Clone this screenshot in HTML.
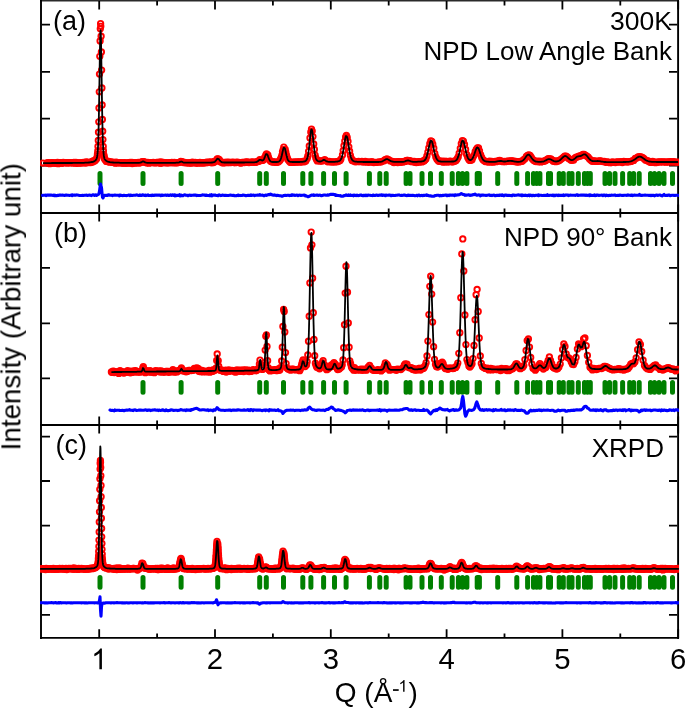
<!DOCTYPE html><html><head><meta charset="utf-8"><style>html,body{margin:0;padding:0;background:#fff}svg{display:block}</style></head><body><svg width="685" height="709" viewBox="0 0 685 709">
<defs><marker id="c" markerUnits="userSpaceOnUse" markerWidth="10" markerHeight="10" refX="5" refY="5" overflow="visible"><circle cx="5" cy="5" r="2.7" fill="none" stroke="#f00" stroke-width="1.9"/></marker><clipPath id="pc"><rect x="40" y="0" width="639" height="709"/></clipPath></defs>
<rect width="685" height="709" fill="#fff"/>
<path d="M40 .7H679" stroke="#2a2a2a" stroke-width="1.4"/>
<path d="M41 0V638.9M678.1 0V638.9M40 213H679M40 425H679M40 637.9H679" stroke="#000" stroke-width="1.9" fill="none"/>
<path d="M99.2 1V9.6M99.2 204.4V221.6M99.2 416.4V433.6M99.2 637.9V629.3M157.1 1V5.4M157.1 208.6V217.4M157.1 420.6V429.4M157.1 637.9V633.5M215 1V9.6M215 204.4V221.6M215 416.4V433.6M215 637.9V629.3M272.9 1V5.4M272.9 208.6V217.4M272.9 420.6V429.4M272.9 637.9V633.5M330.8 1V9.6M330.8 204.4V221.6M330.8 416.4V433.6M330.8 637.9V629.3M388.7 1V5.4M388.7 208.6V217.4M388.7 420.6V429.4M388.7 637.9V633.5M446.6 1V9.6M446.6 204.4V221.6M446.6 416.4V433.6M446.6 637.9V629.3M504.5 1V5.4M504.5 208.6V217.4M504.5 420.6V429.4M504.5 637.9V633.5M562.4 1V9.6M562.4 204.4V221.6M562.4 416.4V433.6M562.4 637.9V629.3M620.3 1V5.4M620.3 208.6V217.4M620.3 420.6V429.4M620.3 637.9V633.5M678.2 1V9.6M678.2 204.4V221.6M678.2 416.4V433.6M678.2 637.9V629.3M42 24.6H50M677.2 24.6H669M42 71.9H50M677.2 71.9H669M42 118.6H50M677.2 118.6H669M42 165.6H50M677.2 165.6H669M42 267.9H50M677.2 267.9H669M42 323.3H50M677.2 323.3H669M42 378.3H50M677.2 378.3H669M42 436.6H50M677.2 436.6H669M42 481H50M677.2 481H669M42 525.7H50M677.2 525.7H669M42 570.2H50M677.2 570.2H669M42 614.8H50M677.2 614.8H669M42 213H50M677.2 213H669M42 425H50M677.2 425H669" stroke="#000" stroke-width="1.8" fill="none"/>
<g clip-path="url(#pc)">
<polyline points="43,163.1 46.8,163 47.8,162.8 48.8,162.7 49.8,163.7 50.9,163 51.9,162.7 52.8,162.8 53.7,163.2 54.7,162.9 55.6,162.9 56.6,163.3 57.5,162.4 58.2,163.7 59.2,163 60.2,162.7 61.2,162.8 62.3,163.3 63.3,162.5 64.4,162.7 65.4,162.6 66.4,162.8 67.3,162.9 68.2,162.7 69.1,162.8 70.1,162.7 71,162.6 72,162.8 73,162.9 74,162.5 75,163.2 76,162.5 77,163.3 78.1,162.9 79.1,162.9 80.2,162.8 81.2,162.9 82.3,162.9 83.4,162.3 84.5,162.6 85.6,163 86.1,162 87,162.5 87.9,162.3 88.8,162.5 89.8,162.4 90.7,162.6 91.7,161.7 92.6,162.1 93.1,160.9 94.1,161 95,160.8 96,159.5 96.8,158.4 97.3,156 97.5,153.8 97.8,150.9 98,146.5 98.3,140.4 98.5,132.2 98.8,121.8 99,107.9 99.3,91.8 99.5,74.1 99.8,56.3 100.1,40.9 100.3,28.8 100.6,23.6 100.8,26.3 101.1,36.2 101.4,51.9 101.6,70.1 101.9,88 102.1,104.9 102.4,119.4 102.7,131.2 102.9,139.6 103.2,146.5 103.4,150.7 103.7,154.3 104,155.8 104.2,157.5 104.5,158.7 105.3,159.9 106.4,161.4 107.5,161.5 108.6,161.5 109.7,162.2 110.8,161.8 111.9,162.1 113.1,162.4 114.2,162.5 115.4,163.2 116.2,162.1 117.4,162.9 118.6,162.6 119.8,162.8 120.7,162.7 121.6,162.8 122.5,163.1 123.4,163 124.4,162.7 125.3,163.1 126.2,163.1 127.2,162.9 128.1,163.1 129.1,162.6 130.1,162.3 131,163.2 132,162.5 132.3,163.6 133.3,162.7 134.3,162.7 135.3,163.2 136.3,162.7 137.3,162.7 138.3,162.5 139.4,163.1 140.4,162.5 141.4,162.1 142.5,161.7 143.5,161.6 144.6,162 145.7,162.6 146.7,162.8 147.8,162.5 148.9,163.2 150,162.6 151.1,162.6 152.2,162.6 153.3,162.5 154.5,162.7 155.6,162.9 156.7,162.5 157.9,162.4 159,162.5 160.2,163.2 160.6,162 161,163 162.2,162.5 163.3,162.5 164.5,162.7 165.7,162.7 166.9,162.8 168.2,162.8 169.4,162.7 170.6,162.6 171.9,162.5 173.1,162.8 174.4,162.5 175.6,162.8 176.9,162.8 178.2,162.6 179.5,162.3 180.8,161.5 182.1,161.6 183.4,162.5 184.7,162.5 186,162.8 187.4,162.8 188.7,162.9 189.6,162.8 190.6,162.9 191.5,163 192.4,162.2 193.3,162.6 194.2,162.8 195.2,162.3 196.1,163.1 197,162.8 198,163.2 198.9,162.6 199.9,162.5 200.8,162.8 201.8,163 202.8,162.6 203.7,162.8 204.7,162.8 205.7,162.7 206.6,162.1 207.6,162.6 208.6,162.1 209.6,162.4 210.6,161.9 211.6,162.8 212.6,162.3 213.6,162.5 214.1,161.3 215.2,161.6 216.2,160.8 217.2,159 218.2,158.9 219.3,159.7 220.3,161.7 221.4,161.9 222.4,162.7 223.5,162.9 224.5,162.4 225.6,162.7 226.6,162.1 227.7,162.6 228.8,162.1 229.9,162.7 231,162.4 232.1,162.4 233.2,162.2 234.3,162.6 235.4,162.7 236.5,162.2 237.6,162.4 238.7,162.3 239.8,162.8 241,163.1 242.1,162.5 243.2,162.4 244.4,162.5 245.5,162.2 246.7,162 247.9,162.2 249,162.5 250.2,162.3 251.4,162.1 252.6,162 253.7,162.3 254.9,162.2 256.1,162.3 257.3,161.3 258.5,161.4 259.8,159.7 261,160.5 262.2,160.4 263.4,160.1 264.7,157.4 265.9,155 266.5,154 267.8,154.9 268.4,157.4 269,158.8 269.7,160.3 270.9,161.4 272.2,162.1 273.5,161.9 274.7,161.9 276,162.4 277.3,162.3 278.6,161.7 279.9,160.4 280.6,159.2 281.2,157.7 281.9,155.4 282.5,151.8 283.2,149.6 283.8,147.1 285.2,149.3 285.8,152.1 286.5,155.2 287.2,157.6 287.8,159.4 289.2,161.3 290.5,162.4 291.9,162.2 293.2,162.4 294.6,162 296,162.1 297.4,162 298.7,161.9 300.1,161.9 301.5,162 302.9,161.4 304.3,161.8 305.8,160.9 307.2,158.4 307.9,155.9 308.6,151.3 309.3,145.9 310,138 310.8,132.2 311.5,129.1 312.2,131.1 312.9,136.6 313.7,143.9 314.4,149.5 315.1,155.1 315.8,157.9 316.6,159.6 317.3,160.9 318.8,160.7 320.3,161 321.7,161.1 323.2,160.6 324.7,159.6 326.2,160.8 327.8,161.8 329.3,161.3 330.8,161.9 332.3,161.9 333.9,161.8 335.4,161.9 337,161.7 338.5,161.3 340.1,160.6 340.9,159.1 342.5,155 343.2,150.6 344,145.7 344.8,141.1 345.6,137.1 346.4,135.5 347.2,137.4 348,141.3 348.8,146.8 349.6,151.2 350.4,155.3 351.3,158.3 352.1,160.5 353.7,161 355.3,161.8 357,161.6 358.6,161.5 360.3,161.7 361.9,161.5 363.6,162 365.3,161.5 367,162.2 368.6,162 370.3,162.2 372,161.7 373.8,162.5 375.5,162.4 377.2,162.3 378.9,161.9 380.7,162 382.4,161.3 384.2,160.7 385.1,159.6 386.9,159 388.6,159.7 390.4,160.9 392.2,161.3 393.1,162 394,162.5 394.9,162.1 395.8,162 396.7,162 397.7,162.5 398.6,161.7 399.5,161.9 400.4,162.1 401.3,162.1 402.2,161.7 403.2,161.9 404.1,161.5 405,161.4 405.9,161 406.9,160.3 407.8,160.4 408.7,160.8 409.7,160.6 410.6,161.2 411.6,161.7 412.5,161.4 413.4,161.8 414.4,161.5 415.3,162.2 416.3,162.5 417.2,162.4 418.2,161.7 419.2,161.9 420.1,161.7 421.1,161.6 422,161.9 423,160.8 424,161.1 424.9,160 425.9,158.9 426.9,156 427.9,152.1 428.8,147.9 429.8,143.7 430.8,140.8 431.8,141.3 432.8,144.2 433.8,148.2 434.8,153.5 435.8,156.9 436.8,159 437.8,160.3 438.8,161.3 439.8,161.1 440.8,161.2 441.8,161.5 442.8,162 443.8,161.2 444.8,162 445.8,161.5 446.8,161.4 447.9,162.1 448.9,161.6 449.9,161.2 450.9,161.5 452,161.8 453,161.8 454,161.2 455.1,161.1 456.1,160.6 457.1,158.9 458.2,156.9 459.2,153.2 460.3,148.3 461.3,143.6 462.4,140.7 463.4,141.1 464.5,144.5 465.6,149.4 466.6,154.4 467.7,157.4 468.8,159.5 469.8,160.4 470.9,160.1 472,159.8 473,157.2 474.1,155.1 475.2,151.6 476.3,149.4 477.4,147.9 478.5,147.8 479.5,150.8 480.6,154.6 481.7,157.5 482.8,159.6 483.9,160.5 485,161.3 486.1,161.7 487.2,161.6 488.4,162 489.5,161.1 490.6,162 491.7,161.5 492.8,162.1 493.9,161.8 495.1,161.5 496.2,161.7 497.3,161.1 498.5,160.9 499.6,160.5 500.7,161 501.9,161.3 503,161.7 504.2,161.4 505.3,161.7 506.4,161.3 507.6,161.1 508.8,161.1 509.9,161.1 511.1,160.8 512.2,161 513.4,161.2 514.6,161.5 515.7,161.4 516.9,162.1 518.1,161.7 519.3,161.9 520.4,161.4 521.6,161.4 522.8,160.7 524,159.4 525.2,158.6 526.4,156.4 527.6,155.5 528.8,155 530,155.5 531.2,157.2 532.4,159.1 533.6,160.3 534.8,161.1 536,161.5 537.2,161.2 538.5,161.8 539.7,161.2 540.9,161.9 542.1,161.5 543.4,161.3 544.6,161 545.8,160.5 547.1,159.3 548.3,158.6 549.6,158.8 550.8,158.9 552.1,159.9 553.3,161.3 554.6,161 555.8,161.7 557.1,161 558.3,161.1 559.6,160.3 560.9,159.3 562.2,158.3 563.4,157.4 564.7,156.2 566,156.2 567.3,156.8 568.6,158.4 569.8,159.3 571.1,160.3 572.4,160 573.7,160 575,157.8 576.3,157.2 577.6,156.8 578.9,156.2 580.3,155.9 581.6,155.5 582.9,154.4 584.2,154.3 585.5,155.3 586.9,156.2 588.2,157.2 589.5,158.9 590.9,160.2 592.2,161.3 593.5,161 594.9,161 596.2,161.4 597.6,161.3 598.9,161 600.3,161 601.6,161.1 603,161.6 604.4,161.3 605.7,162.3 607.1,161.9 608.5,162.2 609.9,162.7 611.2,162.5 612.6,161.8 614,162.4 615.4,162.5 616.8,161.9 618.2,161.8 619.6,162.1 621,161.6 622.4,162.5 623.8,161.3 625.2,161.7 626.6,161.9 628,161.8 629.4,161.7 630.9,161.4 632.3,160.8 633.7,160.4 635.2,158.5 636.6,158.1 638,156.9 639.5,156.7 640.9,156.9 642.4,157.3 643.8,158.4 645.3,159.9 646.7,160.6 648.2,160.9 649.7,162.1 651.1,162.4 652.6,161.4 654.1,162 655.5,162.7 657,162.2 658.5,162 660,161.9 661.5,161.8 663,161.9 664.5,161.8 666,162.2 667.5,161.9 669,161.9 670.5,161.6 672,162 673.5,161.7 675,161.9 676.6,162.3 678.1,162.1" fill="none" stroke="none" marker-start="url(#c)" marker-mid="url(#c)" marker-end="url(#c)"/>
<polyline points="43,163.1 44,163.1 45,163.1 46,163.1 47,163.1 48,163.1 49,163.1 50,163.1 51,163.1 52,163 53,163 54,163 55,163 56,163 57,163 58,163 59,163 60,163 61,163 62,163 63,163 64,163 65,163 66,163 67,163 68,163 69,163 70,163 71,163 72,163 73,162.9 74,162.9 75,162.9 76,162.9 77,162.9 78,162.9 79,162.9 80,162.9 81,162.8 82,162.8 83,162.8 84,162.8 85,162.7 86,162.7 87,162.6 88,162.6 89,162.5 90,162.4 91,162.2 92,162 93,161.8 94,161.4 94.8,160.9 95.4,160.4 95.8,160 96.2,159.5 96.6,158.6 96.8,158 97,157.3 97.2,156.2 97.4,154.8 97.6,152.9 97.8,150.2 98,146.7 98.2,142.1 98.4,136.2 98.6,128.8 98.8,119.8 99,109.3 99.2,97.4 99.4,84.6 99.6,71.3 99.8,58.4 100,46.7 100.2,37.5 100.4,31.8 100.6,30.4 100.8,33.4 101,40.6 101.2,50.8 101.4,63.1 101.6,76.2 101.8,89.4 102,102 102.2,113.3 102.4,123.3 102.6,131.7 102.8,138.5 103,143.9 103.2,148.1 103.4,151.3 103.6,153.6 103.8,155.4 104,156.6 104.2,157.6 104.4,158.3 104.6,158.8 104.8,159.2 105.2,159.8 105.6,160.3 106.2,160.8 107,161.3 108,161.7 109,162 110,162.2 111,162.3 112,162.4 113,162.5 114,162.6 115,162.6 116,162.7 117,162.7 118,162.7 119,162.7 120,162.8 121,162.8 122,162.8 123,162.8 124,162.8 125,162.8 126,162.8 127,162.8 128,162.8 129,162.8 130,162.8 131,162.8 132,162.8 133,162.8 134,162.8 135,162.8 136,162.8 137,162.8 138,162.8 139,162.8 140,162.7 141,162.5 141.8,162 142.6,161.5 143.6,161.5 144.4,161.9 145.2,162.4 146.2,162.7 147.2,162.8 148.2,162.8 149.2,162.8 150.2,162.8 151.2,162.8 152.2,162.8 153.2,162.8 154.2,162.8 155.2,162.8 156.2,162.8 157.2,162.8 158.2,162.8 159.2,162.8 160.2,162.8 161.2,162.8 162.2,162.8 163.2,162.8 164.2,162.8 165.2,162.8 166.2,162.8 167.2,162.8 168.2,162.8 169.2,162.8 170.2,162.8 171.2,162.8 172.2,162.8 173.2,162.8 174.2,162.8 175.2,162.8 176.2,162.7 177.2,162.7 178.2,162.6 179.2,162.4 180.2,161.9 181.2,161.5 182.2,161.9 183,162.3 184,162.6 185,162.7 186,162.7 187,162.7 188,162.7 189,162.7 190,162.7 191,162.7 192,162.7 193,162.7 194,162.7 195,162.7 196,162.7 197,162.7 198,162.7 199,162.7 200,162.7 201,162.7 202,162.7 203,162.6 204,162.6 205,162.6 206,162.6 207,162.6 208,162.6 209,162.6 210,162.6 211,162.6 212,162.5 213,162.4 214,162.2 214.8,161.7 215.4,161.2 215.8,160.7 216.2,160.2 216.6,159.6 217,159.1 217.6,158.7 218.6,159 219,159.4 219.4,160 219.8,160.5 220.2,161 220.6,161.4 221.2,161.9 222.2,162.3 223.2,162.4 224.2,162.5 225.2,162.5 226.2,162.5 227.2,162.5 228.2,162.5 229.2,162.5 230.2,162.5 231.2,162.5 232.2,162.5 233.2,162.5 234.2,162.5 235.2,162.5 236.2,162.5 237.2,162.5 238.2,162.5 239.2,162.5 240.2,162.5 241.2,162.5 242.2,162.5 243.2,162.5 244.2,162.5 245.2,162.4 246.2,162.4 247.2,162.4 248.2,162.4 249.2,162.4 250.2,162.4 251.2,162.4 252.2,162.4 253.2,162.3 254.2,162.3 255.2,162.2 256.2,162.1 257.2,161.7 257.8,161.3 258.4,160.8 259,160.2 259.6,159.8 260.6,159.8 261.4,160.2 262.4,160.6 263.4,160 263.8,159.4 264.2,158.6 264.4,158.1 264.6,157.6 264.8,157.1 265,156.5 265.2,156 265.4,155.5 265.6,155 265.8,154.6 266.2,154 267.2,154.4 267.6,155.2 267.8,155.7 268,156.2 268.2,156.8 268.4,157.3 268.6,157.9 268.8,158.4 269,158.9 269.2,159.3 269.4,159.7 269.8,160.4 270.2,161 270.8,161.5 271.8,161.9 272.8,162 273.8,162 274.8,162 275.8,162 276.8,162 277.8,161.9 278.8,161.6 279.6,161 280,160.5 280.4,159.9 280.6,159.4 280.8,158.9 281,158.4 281.2,157.8 281.4,157.1 281.6,156.3 281.8,155.5 282,154.6 282.2,153.7 282.4,152.8 282.6,151.9 282.8,151 283,150.1 283.2,149.3 283.4,148.6 283.6,148 283.8,147.6 284.8,148.2 285,148.8 285.2,149.6 285.4,150.4 285.6,151.3 285.8,152.2 286,153.1 286.2,154.1 286.4,154.9 286.6,155.8 286.8,156.6 287,157.3 287.2,158 287.4,158.6 287.6,159.1 287.8,159.6 288,160 288.4,160.6 288.8,161.1 289.4,161.5 290.4,161.8 291.4,161.9 292.4,162 293.4,162 294.4,162 295.4,162 296.4,162 297.4,162 298.4,162 299.4,162 300.4,161.9 301.4,161.9 302.4,161.8 303.4,161.6 304.4,161.5 305.4,161.1 306,160.6 306.4,160.1 306.8,159.4 307,159 307.2,158.4 307.4,157.8 307.6,157 307.8,156.1 308,155.1 308.2,154 308.4,152.7 308.6,151.3 308.8,149.8 309,148.1 309.2,146.3 309.4,144.5 309.6,142.5 309.8,140.6 310,138.6 310.2,136.7 310.4,134.9 310.6,133.3 310.8,131.9 311,130.7 311.2,129.9 311.4,129.4 312,130.1 312.2,131.1 312.4,132.4 312.6,133.9 312.8,135.6 313,137.4 313.2,139.3 313.4,141.3 313.6,143.2 313.8,145.1 314,147 314.2,148.7 314.4,150.3 314.6,151.8 314.8,153.2 315,154.4 315.2,155.5 315.4,156.4 315.6,157.3 315.8,158 316,158.6 316.2,159.1 316.4,159.5 316.8,160.2 317.2,160.6 317.8,161 318.8,161.4 319.8,161.5 320.8,161.3 321.8,161 322.6,160.5 323.4,160 324.4,160 325.4,160.5 326,160.9 326.8,161.4 327.8,161.7 328.8,161.8 329.8,161.9 330.8,161.9 331.8,161.9 332.8,161.9 333.8,161.8 334.8,161.8 335.8,161.7 336.8,161.6 337.8,161.5 338.8,161.2 339.8,160.7 340.4,160.1 340.8,159.5 341.2,158.8 341.4,158.3 341.6,157.8 341.8,157.2 342,156.5 342.2,155.8 342.4,155 342.6,154.1 342.8,153.2 343,152.1 343.2,151.1 343.4,149.9 343.6,148.7 343.8,147.5 344,146.2 344.2,144.9 344.4,143.6 344.6,142.3 344.8,141.1 345,140 345.2,138.9 345.4,137.9 345.6,137.1 345.8,136.5 346,136 347,136.7 347.2,137.4 347.4,138.3 347.6,139.3 347.8,140.4 348,141.6 348.2,142.8 348.4,144.1 348.6,145.4 348.8,146.6 349,147.9 349.2,149.1 349.4,150.3 349.6,151.5 349.8,152.5 350,153.5 350.2,154.5 350.4,155.3 350.6,156.1 350.8,156.8 351,157.4 351.2,158 351.4,158.5 351.6,158.9 352,159.7 352.4,160.2 352.8,160.6 353.4,161 354.4,161.4 355.4,161.6 356.4,161.7 357.4,161.8 358.4,161.8 359.4,161.9 360.4,161.9 361.4,161.9 362.4,161.9 363.4,162 364.4,162 365.4,162 366.4,162 367.4,162 368.4,162 369.4,162 370.4,162 371.4,162 372.4,162 373.4,162 374.4,162 375.4,162 376.4,162 377.4,162 378.4,162 379.4,161.9 380.4,161.8 381.4,161.7 382.4,161.3 383.4,160.8 384.2,160.3 384.8,159.9 385.6,159.4 386.6,159.1 387.6,159.2 388.6,159.7 389.4,160.2 390.2,160.7 391,161.2 392,161.5 393,161.7 394,161.9 395,161.9 396,161.9 397,161.9 398,161.9 399,161.9 400,161.9 401,161.9 402,161.9 403,161.8 404,161.6 405,161.3 406,160.9 407,160.6 408,160.4 409,160.7 410,161 411,161.4 412,161.6 413,161.8 414,161.8 415,161.8 416,161.8 417,161.8 418,161.7 419,161.7 420,161.6 421,161.6 422,161.4 423,161.2 424,160.8 424.6,160.3 425,159.9 425.4,159.4 425.8,158.7 426,158.3 426.2,157.8 426.4,157.3 426.6,156.8 426.8,156.2 427,155.5 427.2,154.8 427.4,154.1 427.6,153.3 427.8,152.4 428,151.6 428.2,150.7 428.4,149.7 428.6,148.8 428.8,147.9 429,146.9 429.2,146 429.4,145.1 429.6,144.2 429.8,143.4 430,142.7 430.2,142.1 430.4,141.5 430.6,141.1 431,140.6 431.8,141.2 432,141.7 432.2,142.3 432.4,143 432.6,143.7 432.8,144.5 433,145.4 433.2,146.3 433.4,147.3 433.6,148.2 433.8,149.1 434,150.1 434.2,151 434.4,151.9 434.6,152.7 434.8,153.5 435,154.3 435.2,155 435.4,155.7 435.6,156.4 435.8,156.9 436,157.5 436.2,158 436.4,158.4 436.8,159.1 437.2,159.7 437.6,160.2 438.2,160.7 439,161.1 440,161.3 441,161.5 442,161.6 443,161.6 444,161.6 445,161.7 446,161.7 447,161.7 448,161.7 449,161.7 450,161.6 451,161.6 452,161.5 453,161.5 454,161.3 455,161 455.8,160.6 456.4,160.1 456.8,159.6 457.2,159 457.6,158.2 457.8,157.7 458,157.2 458.2,156.7 458.4,156.1 458.6,155.4 458.8,154.7 459,154 459.2,153.2 459.4,152.4 459.6,151.5 459.8,150.6 460,149.7 460.2,148.7 460.4,147.8 460.6,146.8 460.8,145.9 461,145 461.2,144.1 461.4,143.3 461.6,142.6 461.8,141.9 462,141.4 462.2,141 462.6,140.5 463.4,141.1 463.6,141.6 463.8,142.1 464,142.8 464.2,143.6 464.4,144.4 464.6,145.3 464.8,146.2 465,147.1 465.2,148 465.4,149 465.6,149.9 465.8,150.8 466,151.7 466.2,152.5 466.4,153.3 466.6,154.1 466.8,154.8 467,155.5 467.2,156.1 467.4,156.7 467.6,157.2 467.8,157.6 468,158.1 468.4,158.8 468.8,159.3 469.4,159.8 470.4,160.1 471.4,159.6 472,159.1 472.4,158.5 472.8,157.8 473.2,157 473.4,156.6 473.6,156.1 473.8,155.6 474,155.1 474.2,154.5 474.4,154 474.6,153.4 474.8,152.8 475,152.2 475.2,151.6 475.4,151 475.6,150.4 475.8,149.9 476,149.4 476.2,148.9 476.4,148.5 476.8,147.8 477.4,147.4 478.2,148 478.6,148.7 478.8,149.2 479,149.7 479.2,150.2 479.4,150.8 479.6,151.4 479.8,152 480,152.6 480.2,153.2 480.4,153.8 480.6,154.4 480.8,155 481,155.5 481.2,156.1 481.4,156.6 481.6,157.1 481.8,157.5 482,157.9 482.4,158.7 482.8,159.3 483.2,159.9 483.6,160.3 484.2,160.8 485,161.2 486,161.5 487,161.6 488,161.7 489,161.8 490,161.8 491,161.8 492,161.9 493,161.9 494,161.8 495,161.8 496,161.6 497,161.5 498,161.2 499,161.1 500,161 501,161 502,161.2 503,161.4 504,161.5 505,161.5 506,161.3 507,161.2 508,161 509,160.9 510,160.8 511,160.9 512,161 513,161.2 514,161.4 515,161.6 516,161.7 517,161.8 518,161.8 519,161.8 520,161.7 521,161.5 522,161.1 522.8,160.6 523.4,160.1 523.8,159.7 524.2,159.2 524.6,158.7 525,158.2 525.4,157.6 525.8,157 526.2,156.4 526.6,155.9 527,155.4 527.6,154.9 528.6,154.6 529.4,155.1 529.8,155.5 530.2,156 530.6,156.5 531,157.1 531.4,157.7 531.8,158.3 532.2,158.8 532.6,159.3 533,159.8 533.6,160.3 534.2,160.8 535,161.2 536,161.6 537,161.7 538,161.8 539,161.9 540,161.9 541,161.8 542,161.7 543,161.6 544,161.3 545,160.8 545.8,160.4 546.6,159.9 547.4,159.5 548.4,159.1 549.4,159.1 550.4,159.3 551.4,159.8 552.2,160.3 553,160.7 554,161.1 555,161.4 556,161.5 557,161.4 558,161.2 559,160.7 559.8,160.2 560.4,159.7 561,159.2 561.6,158.6 562,158.2 562.4,157.8 563,157.2 563.6,156.7 564.4,156.2 565.4,156 566.4,156.4 567,156.9 567.6,157.4 568.2,158 568.8,158.5 569.4,159 570,159.5 570.8,159.9 571.8,160.1 572.8,159.9 573.6,159.5 574.2,159.1 574.8,158.6 575.4,158.1 576,157.5 576.6,157.1 577.4,156.6 578.4,156.3 579.4,156.2 580.4,156.1 581.4,155.7 582.2,155.2 583,154.8 584,154.3 585,154.4 585.8,154.8 586.4,155.4 586.8,155.8 587.2,156.3 587.6,156.8 588,157.3 588.4,157.9 588.8,158.3 589.2,158.8 589.6,159.2 590.2,159.8 590.8,160.3 591.6,160.7 592.6,161.1 593.6,161.2 594.6,161.2 595.6,161.2 596.6,161.1 597.6,161 598.6,161.1 599.6,161.2 600.6,161.4 601.6,161.6 602.6,161.7 603.6,161.9 604.6,162 605.6,162 606.6,162.1 607.6,162.1 608.6,162.1 609.6,162.1 610.6,162.1 611.6,162.1 612.6,162.1 613.6,162.1 614.6,162.1 615.6,162.1 616.6,162.1 617.6,162.1 618.6,162.1 619.6,162.1 620.6,162.1 621.6,162.1 622.6,162.1 623.6,162 624.6,162 625.6,162 626.6,161.9 627.6,161.9 628.6,161.8 629.6,161.6 630.6,161.4 631.6,161.1 632.6,160.7 633.4,160.3 634.2,159.8 634.8,159.4 635.4,158.9 636,158.5 636.6,158 637.2,157.6 638,157.1 639,156.7 640,156.6 641,156.9 642,157.4 642.8,157.9 643.4,158.4 644,158.8 644.6,159.2 645.2,159.7 646,160.2 646.8,160.6 647.8,161 648.8,161.3 649.8,161.6 650.8,161.7 651.8,161.8 652.8,161.9 653.8,161.9 654.8,161.9 655.8,161.9 656.8,162 657.8,162 658.8,162 659.8,162 660.8,162 661.8,162 662.8,162 663.8,162 664.8,162 665.8,162 666.8,162 667.8,162 668.8,162 669.8,162 670.8,162 671.8,162 672.8,162 673.8,162 674.8,162 675.8,162 676.8,162 677.8,162 678,162" fill="none" stroke="#000" stroke-width="1.8" stroke-linejoin="round"/>
<path d="M100 173.5V183.4M143 173.5V183.4M181.1 173.5V183.4M217.7 173.5V183.4M259.7 173.5V183.4M266.3 173.5V183.4M283.5 173.5V183.4M302.8 173.5V183.4M310.9 173.5V183.4M323.6 173.5V183.4M334.5 173.5V183.4M346.1 173.5V183.4M369.4 173.5V183.4M379.8 173.5V183.4M386.2 173.5V183.4M406.1 173.5V183.4M410 173.5V183.4M422 173.5V183.4M430.5 173.5V183.4M441.3 173.5V183.4M452.2 173.5V183.4M458.4 173.5V183.4M462.5 173.5V183.4M466.9 173.5V183.4M477.2 173.5V183.4M479.4 173.5V183.4M497.7 173.5V183.4M516.8 173.5V183.4M527.6 173.5V183.4M533.5 173.5V183.4M536.8 173.5V183.4M539.9 173.5V183.4M548.5 173.5V183.4M550.5 173.5V183.4M559.2 173.5V183.4M563.3 173.5V183.4M569 173.5V183.4M572 173.5V183.4M578.3 173.5V183.4M584.5 173.5V183.4M587.5 173.5V183.4M590.3 173.5V183.4M605 173.5V183.4M609.5 173.5V183.4M615 173.5V183.4M622.6 173.5V183.4M629.7 173.5V183.4M633.6 173.5V183.4M639.2 173.5V183.4M650.5 173.5V183.4M654.5 173.5V183.4M659 173.5V183.4M664 173.5V183.4M672.5 173.5V183.4" stroke="#008000" stroke-width="5" stroke-linecap="round"/>
<polyline points="42.5,195.4 43.5,195.3 44.5,195.2 45.5,195.1 46,195.6 47,195.1 48,195.1 49,195.1 50,195.1 51,195.1 52,195.3 53,195.4 54,195.1 54.5,195.7 55.5,195.3 56.5,195.8 57.5,195.3 58.5,195.4 59.5,195.1 60.5,195.1 61.5,195.3 62.5,195.1 63.5,195.3 64.5,195.5 65.5,195.1 66.5,195.1 67.5,195.3 68.5,195.2 69.5,195.4 70.5,195.2 71.5,195 72,195.7 72.5,194.8 73.5,195.3 74.5,195.1 75.5,195.3 76.5,194.9 77.5,195.1 78.5,195.3 79.5,195.5 80.5,195.5 81.5,195.5 82.5,195.3 83.5,195.5 84.5,195.3 85.5,195.2 86.5,195.1 87.5,195.5 88.5,195.3 89.5,195.1 90.5,195.2 91.5,195.6 92.5,194.9 93.5,194.9 94.5,195.5 95.5,194.8 96.5,195.4 97.5,194.8 98.5,194.4 99,193.4 99.5,191.1 100,187.4 100.5,184 101.5,187.7 102,192.8 102.5,197.2 103,198 103.5,196.5 104,195.8 104.5,195.2 105.5,195.5 106.5,195.3 107.5,195.5 108.5,194.7 109.5,195.2 110.5,195.3 111.5,195.2 112.5,195.7 113,195.2 114,195.3 115,195.1 116,195.2 117,195.3 118,195.2 119,195.3 119.5,195.9 120,195.1 121,195.3 122,195.5 123,195.6 124,195.2 125,195.4 126,195.6 127,195.5 128,195.3 129,195 130,195.6 130.5,195.1 131.5,195.4 132.5,195.5 133.5,195.3 134.5,195.3 135.5,195.3 136.5,194.9 137.5,195.1 138.5,195.5 139.5,195.5 140,194.9 140.5,195.5 141.5,195.4 142.5,194.7 143.5,195.3 144.5,195.4 145.5,195 146,195.6 147,195.3 148,194.9 148.5,195.5 149.5,195.5 150.5,195.4 151.5,195.6 152,195 153,195.4 154,195.4 155,195.1 156,195.3 157,195 158,195.2 159,195 160,195.3 161,195.7 161.5,195 162.5,195.5 163.5,195.2 164.5,195.2 165.5,195 166.5,195.4 167.5,195.1 168.5,195.4 169.5,195.4 170.5,194.9 171.5,195.4 172.5,194.8 173.5,195.5 174.5,194.8 175,195.9 175.5,195.1 176.5,195.6 177.5,195.3 178.5,195.4 179.5,194.7 180,195.9 181,195.7 181.5,195.1 182,195.6 183,195.6 184,195 185,194.8 186,195.3 187,195.3 188,195.7 189,195.3 190,195.1 191,195.5 192,195.2 193,195.3 194,195.1 195,195.1 196,195 196.5,195.6 197.5,195.4 198.5,195.5 199.5,195.5 200.5,195.4 201.5,195.2 202.5,194.9 203.5,195 204.5,195.1 205.5,195.4 206.5,195.1 207.5,195.5 208.5,195.5 209.5,195.6 210,195 210.5,195.6 211.5,194.7 212,195.9 213,195.1 214,195.3 215,195 216,195.4 217,195.6 218,195.8 218.5,195.1 219.5,194.9 220.5,195.6 221.5,195.4 222.5,195.1 223.5,195.2 224.5,195.5 225.5,195.2 226.5,195.4 227.5,195.5 228.5,195.5 229.5,195.3 230.5,195.1 231.5,195.2 232.5,195.5 233.5,195.3 234.5,195.7 235.5,195.7 236.5,195.6 237.5,195.5 238.5,195 239,195.6 240,195.4 241,195.6 242,195.4 243,195.1 244,195.3 245,195.4 246,195.7 247,195.5 248,195.3 249,195.4 250,195.5 251,194.9 251.5,195.5 252.5,195.3 253.5,195 254.5,195.6 255.5,195.2 256.5,195.2 257.5,195.1 258.5,195 259.5,195.3 260,194.7 260.5,195.3 261.5,195.2 262.5,195 263.5,195.6 264.5,195.6 265.5,195 266.5,195.4 267.5,194.9 268.5,194.6 269.5,194.8 270.5,194.1 271.5,194.8 272.5,194.9 273.5,195.2 274.5,194.9 275.5,195.2 276.5,195.6 277.5,195.3 278.5,195.5 279.5,195.7 280.5,195.7 281.5,196.2 282.5,196.1 283.5,195.6 284.5,195.4 285.5,195.4 286.5,195.5 287.5,195.3 288.5,195.2 289.5,195.6 290.5,195.2 291.5,195.5 292,194.8 293,195.1 294,195.1 295,195.4 296,195.3 297,195.1 298,195.7 299,195.2 300,195.1 301,195.5 302,195.3 303,195.2 304,195.1 305,195.3 305.5,196 306.5,195.9 307.5,196.6 308.5,196.7 309.5,196.1 310.5,195.6 311.5,195.1 312.5,195.3 313.5,194.9 314,195.5 315,195.2 316,195.3 317,195 318,195.4 319,195.2 320,195.1 321,195.6 322,195.6 323,195.2 324,195 325,195 326,195.2 327,195.3 327.5,194.8 328,195.3 329,194.9 330,194.6 331,194.3 332,194.4 333,194.3 334,194.6 335,194.6 335.5,195.4 336.5,195.1 337.5,195.5 338.5,195.5 339.5,195.7 340.5,195.6 341,196.1 342,196.2 343,196.1 344,195.5 345,195.6 346,194.9 347,195.5 348,195.3 348.5,194.8 349,195.5 350,195.5 350.5,194.9 351,195.5 352,195.5 353,195.2 353.5,195.8 354,195.1 355,195.2 356,195.6 357,195.1 358,195.6 359,195.5 360,195.1 361,195 362,195.5 363,195.8 364,195.2 365,195.7 366,195 367,195.6 368,195.1 369,195.3 370,195.2 371,195.4 372,195.6 373,195 374,195.5 375,195.5 376,195.1 377,195.1 378,195.5 379,195.2 380,195 381,195.2 382,194.8 382.5,195.5 383.5,195.1 384.5,195.3 385.5,195.7 386,195.1 387,195.3 388,195.2 389,195.1 390,195.1 391,195.7 392,195.3 393,195.4 394,195.5 395,195.5 396,195.2 397,195.3 398,195.1 399,194.9 400,195.2 401,195.4 402,195.4 403,195.2 404,195 405,195.1 406,195.5 407,195.6 408,195.1 409,195.4 410,195.3 411,195.5 412,195.4 413,195.4 414,195.5 415,195.7 416,195.5 417,195.2 417.5,195.8 418,195.2 419,195.1 420,195.8 421,195.5 422,195.4 423,195.7 423.5,195.2 424.5,195.4 425.5,195.3 426.5,194.8 427,195.5 428,195.3 429,195.8 430,195.9 431,195.9 432,196.2 433,196.2 434,196.2 435,195.6 436,195.5 437,195.3 438,195.2 439,195.2 439.5,195.8 440.5,195.4 441.5,195.8 442.5,195.3 443.5,195.4 444.5,195.3 445.5,195.1 446.5,195.1 447,195.7 448,195.3 449,195.6 449.5,195 450.5,195 451.5,195.3 452.5,195.1 453.5,195.1 454.5,195.6 455,194.8 456,195.2 457,195 458,194.9 459,194.8 460,194.4 461,193.6 462,193.9 463,194.5 464,194.5 465,195.4 466,195 467,195.1 468,194.9 469,194.9 470,195.4 471,195.1 472,195.1 473,194.6 474,194.7 475,194.1 476,194.8 477,195.3 478,195 479,194.9 480,195.3 480.5,195.9 481,195.3 482,195.1 483,195 484,195.2 485,195.3 486,195.5 487,195.2 488,195.1 489,194.9 490,195.5 491,195.3 492,195.6 493,195.3 494,195.1 495,195.7 496,195.6 497,195.3 498,195.4 499,195.5 500,195 501,195.4 502,194.8 502.5,195.5 503.5,195.2 504,195.8 505,195.1 506,195.1 507,195.4 508,195.2 509,195.5 510,195.4 511,195.6 512,195.7 512.5,195.1 513.5,195 514.5,195.4 515.5,195.2 516.5,195.2 517.5,195 518.5,194.9 519.5,195.3 520.5,195.1 521.5,195.7 522,195 522.5,195.6 523.5,195.2 524.5,195.5 525.5,195.1 526.5,195.5 527.5,195.7 528,195.2 529,195 529.5,195.8 530,195.1 531,195.3 532,195.7 533,195.3 534,195.6 535,195.5 536,195.2 537,195.3 538,195.6 538.5,195 539,195.6 540,195.3 541,195.2 542,195.5 543,195.5 544,195.4 545,195.5 546,195.2 547,195.5 547.5,194.7 548,195.3 549,195.5 550,195.2 551,195.2 552,195.4 553,195.1 553.5,195.6 554,195.1 555,195.6 556,195.1 557,195.2 558,195.6 558.5,195 559.5,195.4 560.5,195.4 561.5,195.4 562.5,195.4 563.5,194.9 564,195.6 565,195.2 566,194.9 567,195.1 568,195 568.5,195.6 569.5,195.2 570.5,195.1 571.5,195.2 572.5,195.3 573.5,195.2 574.5,195.3 575.5,195.4 576.5,194.9 577.5,194.9 578,195.5 579,195.3 580,195.3 581,195.1 582,195.1 583,195.1 584,195 585,195.4 586,195.1 587,195.4 588,195.2 589,195.1 589.5,195.7 590,194.9 590.5,195.4 591.5,195.2 592.5,195.5 593.5,195.4 594.5,194.9 595,195.6 596,195.5 597,195 598,195.1 599,195.5 600,195.3 601,195.3 602,195.1 603,195.7 603.5,195 604.5,195.1 605.5,195.8 606.5,195.1 607.5,195.5 608.5,195.6 609.5,195.3 610.5,195.5 611.5,195.1 612.5,195.2 613.5,195.3 614.5,195.1 615.5,195.1 616,195.6 617,195.4 618,195.2 619,195.4 620,195.1 621,195.2 622,195.4 623,195.5 624,195.2 625,195.3 626,195.2 627,195.4 628,194.9 629,195.2 630,195.2 631,195.5 632,195 632.5,195.6 633.5,195.2 634.5,195.1 635.5,195.3 636.5,195.2 637.5,195.3 638.5,195.3 639.5,194.5 640,195.3 641,195.4 642,195.4 643,195.3 644,195.2 645,195.1 646,195.3 647,195.2 648,195.3 649,195.5 650,195.2 651,195.7 652,195.2 653,195.5 654,195.2 654.5,195.8 655.5,195.4 656.5,195 657.5,195.4 658.5,195.2 659.5,195 660.5,195 661,195.5 662,195.9 663,195.2 664,194.5 664.5,195.2 665.5,195.5 666.5,195.4 667.5,195.4 668.5,195.1 669.5,195 670,195.7 671,195.5 672,195.3 673,195.3 674,195.4 675,195.5 676,195.2 677,195.2 678,195.2 678.5,195.4" fill="none" stroke="#00f" stroke-width="3.1" stroke-linejoin="round" stroke-linecap="round"/>
<polyline points="111.4,371.9 112.4,372.4 113,371.2 114.1,371.4 114.3,372.5 115.5,372.2 116.6,372 117.7,372.2 118.8,373.4 119.1,371.8 120,370.6 120.3,372 121.4,371.5 122.6,371.9 123.7,373 124.9,372.5 126.1,372 127,372 127.6,370.7 128.5,371.9 129.5,372.2 130.4,372.8 131,371.2 131.3,372.4 132.2,372.3 133.2,371.4 134.1,371 134.8,372.1 135.7,370.7 136.7,371.8 137.7,371.7 138.6,372.1 139.6,371.9 140.6,371.9 141.6,371.5 142.3,370.2 142.9,368 143.3,366.6 143.6,369.1 144.6,371 145.3,372.7 146,370.7 146.3,371.9 147.3,371 148.4,371.4 149.4,371.8 150.1,370.6 150.5,372.2 151.5,371.8 152.6,371.9 153.7,371.3 154.4,372.7 154.7,371.4 155.8,370.7 156.9,371.3 158,371.3 159.1,370.9 160.2,372.1 161.3,370.8 162.5,371.9 163.6,372 164.7,372.1 165.9,371.5 167,371.3 168.2,371.3 168.6,372.3 169.7,371.9 170.9,371.5 172.1,371.2 172.9,369.7 173.3,371.9 174.5,371.9 175.7,371.8 176.9,371.9 177.7,370.6 179,370.8 180.2,369.8 181.4,368 181.9,369.4 182.3,370.5 183.5,371 184.8,370.8 186.1,371.8 187.4,371.4 188.6,370.4 189.9,370.4 191.2,370.6 192.6,370.3 193.9,370 194.3,368.4 195.7,368.5 197,368 197.5,369.3 198.4,368.7 198.8,371.3 199.7,370.8 200.6,371.7 201.5,371.6 202,370.4 202.9,371.8 203.8,371.3 204.8,371.1 205.7,371.9 206.6,371.3 207.6,371.6 208.5,371.4 209,370.3 209.9,372.2 210.4,370.7 211.4,371.4 212.3,371.2 212.8,370 213.3,371.1 214.3,370.2 215.2,370.1 216.2,367.9 216.7,360.5 217.2,354 218.2,360.7 218.7,366.2 219.2,369.2 220.2,370.2 221.1,370.2 222.1,370.1 222.7,371.1 223.7,371.4 224.7,370.7 225.7,370.1 226.2,372.1 227.2,370.7 228.2,371.1 228.8,369.8 229.8,371.3 230.8,370.6 231.9,370.3 232.9,370.6 234,371.1 235,371.9 235.5,370.5 236.1,371.9 236.6,370.2 237.7,370.1 238.7,370.9 239.8,370.1 240.4,371.4 240.9,370.3 242,371 243.1,369.8 243.6,371.6 244.7,370.5 245.8,369.8 246.9,371 248,370.1 249.1,371.5 249.7,370.5 250.8,371.4 251.9,370.7 253.1,369.7 254.2,370.3 255.3,370.7 256.5,370.5 257.6,369.6 258.2,368.6 259.4,364.1 260,360.1 261.1,364.5 261.7,367.7 262.3,369.4 263.5,368.8 264.6,362.3 265.2,350.1 265.8,336.3 266.4,334.9 267,346.4 267.6,360.7 268.2,367.6 268.8,369.8 270,370.9 271.2,369.9 272.4,370.5 273.6,370 274.9,369.7 276.1,370.5 277.3,370.5 277.9,369.2 278.6,370.2 279.8,370 280.4,367.7 281.7,361 282.3,347.2 282.9,326.5 283.6,309.4 284.2,311.5 284.8,331.9 285.5,352.6 286.1,363.6 286.7,367.8 288,369.1 289.3,369.2 290.6,370.2 291.9,369.2 293.2,369.1 294.5,369.8 295.8,369.7 297.1,369.8 298.4,369.5 299.7,370.7 300.4,369.1 301.1,367 301.7,364.5 302.4,361.9 303.1,359.9 303.7,361.9 304.4,364.2 305.1,366.6 306.5,364.9 307.1,361.7 307.8,354.9 308.5,341.2 309.2,316.2 309.9,282.9 310.5,247.9 311.2,232.1 311.9,244.8 312.6,278.2 313.3,312.7 314,339.4 314.7,355.7 315.4,363.2 316.1,365.6 316.8,367.2 318.2,367.7 319.6,368.8 321,366.9 321.7,364.8 322.4,362.6 323.1,360.6 324.6,365 325.3,366.9 326,368.3 326.7,369.7 328.2,368.8 329.6,367.3 331.1,365.2 331.8,366.6 332.6,364.4 334,362.7 335.5,364.4 336.2,366.7 337,368.3 337.7,369.5 339.2,369 340,367.9 341.5,367 342.2,364.8 343,359.9 343.7,347.7 344.5,324.7 345.2,293.1 346,266.2 347.5,292.2 348.3,322.9 349.1,347.2 349.8,360.8 350.6,363.7 351.4,366.7 352.1,368.3 353.7,370.2 354.5,367.6 355.3,370 356.8,369.9 358.4,369.8 360,370.1 360.8,369.1 362.4,370.3 363.1,369.2 364.7,369.9 366.4,370.2 368,367.2 369.6,365.5 371.2,368 372.8,370.1 374.5,370.4 376.1,370.4 377.8,369.6 379.4,370.2 381.1,370.9 382.8,369.4 383.6,367.9 384.5,366 385.3,363 387,364.4 387.8,366.2 388.7,368.2 389.5,370.2 391.3,369.6 393,369.6 394.7,369.6 396.4,370.3 397.3,369.1 399,369.3 400.8,369.6 402.5,368.1 404.3,365.2 405.2,364 407,364.1 407.9,367.1 409.6,367.8 411.4,367.6 412.3,368.9 413.2,369.6 414.1,368.6 415,370 416,369.7 416.9,369.9 417.8,369.5 418.7,368.5 419.6,368.4 420.5,370 421.4,368.9 422.4,367.8 423.3,368.4 424.2,367.5 425.1,365.6 426.1,362.7 427,356 427.9,341.1 428.9,314.6 429.8,286.3 430.7,276.2 431.7,294.1 432.6,322.1 433.6,346.7 434.5,359.3 435.5,364.3 436.4,366.4 437.4,367 438.3,366.5 439.3,364.6 440.2,363.4 441.2,363.5 442.2,362.1 443.1,363.6 444.1,366.6 445.1,368.2 446,368.7 447,368.1 448,369.3 448.9,368.3 449.9,368.1 450.9,368.2 451.9,368.4 452.9,368.6 453.9,368.3 454.8,367.5 455.8,367.4 456.8,365.7 457.8,363.1 458.8,353.3 459.8,332.7 460.8,297.7 461.8,253.9 462.8,238.9 463.8,271 464.9,314.9 465.9,344.6 466.9,359.6 467.9,362.5 468.9,365.9 469.9,367.1 471,365.6 472,363.8 473,358.6 474,345.4 475.1,319.7 476.1,294.7 477.1,289.4 478.2,311.4 479.2,338 480.3,355.9 481.3,363.4 482.4,366.6 483.4,367.3 484.5,367.8 485.5,368.4 486.6,368.6 487.6,368.2 488.7,369.9 489.7,369 490.8,368.4 491.9,369.9 492.9,368.9 494,369.6 495.1,369.4 496.2,369.5 497.2,369.5 498.3,369.1 499.4,369.5 500.5,370.6 501.6,368.3 502.7,369.5 503.8,369.7 504.8,368.9 505.9,368.7 507,370.6 508.1,369.2 509.2,370.5 510.4,369.6 511.5,369.1 512.6,368.7 513.7,367.5 514.8,365.8 515.9,363.8 517,363.9 518.2,365.7 519.3,368.1 520.4,368.7 521.5,367.8 522.7,367.3 523.8,365.6 524.9,359.6 526.1,350.5 527.2,340.6 528.4,339 529.5,347.1 530.7,357.5 531.8,363.9 533,368.3 534.1,368.2 535.3,370.2 536.4,368.6 537.6,367.4 538.8,365.5 539.9,363.6 541.1,365.8 542.3,367.2 543.4,369 544.6,367.1 545.8,367.5 547,363.4 548.2,360.4 549.4,356.9 550.5,360.3 551.7,363.6 552.9,367 554.1,368.1 555.3,367.9 556.5,369 557.7,368.5 558.9,367.1 560.2,364.1 561.4,358 562.6,349.5 563.8,344 565,346.5 566.2,353.9 567.5,357.3 568.7,357.9 569.9,358.8 571.2,361.7 572.4,364.2 573.6,364.5 574.9,361.8 576.1,357.4 577.4,348.9 578.6,344 579.9,344.7 581.1,346.7 582.4,344.6 583.6,339 584.9,338 586.2,345.7 587.4,355.5 588.7,362.3 590,367.3 591.2,368.2 592.5,369.9 593.8,368.4 595.1,368.9 596.4,369.5 597.7,368.9 598.9,368.3 600.2,368.4 601.5,368.5 602.8,367.7 604.1,366.4 605.4,366.5 606.8,367 608.1,367.7 609.4,368.5 610.7,368.9 612,369.6 613.3,369.9 614.7,369.4 616,369.6 617.3,369.2 618.6,368.6 620,368.8 621.3,369.7 622.7,369.5 624,370.1 625.3,369.1 626.7,369.1 628.1,368.5 629.4,366.7 630.8,364.1 632.1,363.5 633.5,363.8 634.9,361.9 636.2,357.8 637.6,349.7 639,341.9 640.4,344.4 641.7,351.5 643.1,360.2 644.5,365.4 645.9,367.4 647.3,368.8 648.7,368.7 650.1,369.4 651.5,368 652.9,366.7 654.3,365.3 655.7,364.9 657.1,366.9 658.5,367.7 660,369.4 661.4,369.2 662.8,370.1 664.2,369.2 665.7,368.7 667.1,367.8 668.5,367.7 670,368.5 671.4,369.3 672.9,368.8 674.3,369.7 675.8,370.9 677.2,369.5 678.7,369.4" fill="none" stroke="none" marker-start="url(#c)" marker-mid="url(#c)" marker-end="url(#c)"/>
<polyline points="111.4,372.1 112.4,372.1 113.4,372.1 114.4,372 115.4,372 116.4,372 117.4,372 118.4,372 119.4,372 120.4,372 121.4,372 122.4,371.9 123.4,371.9 124.4,371.9 125.4,371.9 126.4,371.9 127.4,371.9 128.4,371.9 129.4,371.9 130.4,371.8 131.4,371.8 132.4,371.8 133.4,371.8 134.4,371.8 135.4,371.8 136.4,371.8 137.4,371.7 138.4,371.7 139.4,371.7 140.4,371.7 141.4,371.5 142,370.9 142.2,370.4 142.4,369.8 142.6,369.2 142.8,368.5 143,368 143.8,368.9 144,369.6 144.2,370.2 144.4,370.7 144.8,371.3 145.8,371.6 146.8,371.6 147.8,371.6 148.8,371.6 149.8,371.6 150.8,371.6 151.8,371.6 152.8,371.6 153.8,371.6 154.8,371.6 155.8,371.6 156.8,371.5 157.8,371.5 158.8,371.5 159.8,371.5 160.8,371.5 161.8,371.5 162.8,371.5 163.8,371.5 164.8,371.5 165.8,371.5 166.8,371.4 167.8,371.4 168.8,371.4 169.8,371.4 170.8,371.4 171.8,371.4 172.8,371.4 173.8,371.4 174.8,371.4 175.8,371.3 176.8,371.3 177.8,371.3 178.8,371.3 179.8,371.1 180.4,370.5 180.8,369.7 181,369.3 181.4,368.8 182,369.5 182.2,370 182.6,370.7 183.2,371.1 184.2,371.2 185.2,371.2 186.2,371.2 187.2,371.2 188.2,371.2 189.2,371.2 190.2,371.2 191.2,371.2 192.2,371.2 193.2,371.2 194.2,371.2 195.2,371.2 196.2,371.2 197.2,371.2 198.2,371.1 199.2,371.1 200.2,371.1 201.2,371.1 202.2,371.1 203.2,371.1 204.2,371.1 205.2,371.1 206.2,371.1 207.2,371.1 208.2,371 209.2,371 210.2,371 211.2,371 212.2,370.9 213.2,370.9 214.2,370.8 215.2,370.5 215.6,370.1 215.8,369.6 216,368.9 216.2,367.7 216.4,366 216.6,363.8 216.8,361.2 217,358.6 217.2,356.5 217.4,355.5 217.6,356 217.8,357.7 218,360.1 218.2,362.7 218.4,365.1 218.6,367 218.8,368.4 219,369.3 219.2,369.9 219.6,370.4 220.6,370.7 221.6,370.8 222.6,370.9 223.6,370.9 224.6,370.9 225.6,370.9 226.6,370.9 227.6,370.9 228.6,370.9 229.6,370.9 230.6,370.9 231.6,370.9 232.6,370.9 233.6,370.8 234.6,370.8 235.6,370.8 236.6,370.8 237.6,370.8 238.6,370.8 239.6,370.8 240.6,370.8 241.6,370.8 242.6,370.8 243.6,370.8 244.6,370.7 245.6,370.7 246.6,370.7 247.6,370.7 248.6,370.7 249.6,370.7 250.6,370.7 251.6,370.6 252.6,370.6 253.6,370.6 254.6,370.5 255.6,370.5 256.6,370.4 257.6,370.2 258.4,369.6 258.6,369.1 258.8,368.4 259,367.4 259.2,366.2 259.4,364.7 259.6,363.1 259.8,361.6 260,360.4 260.2,359.9 260.6,361 260.8,362.4 261,363.9 261.2,365.4 261.4,366.7 261.6,367.8 261.8,368.5 262,369 262.4,369.5 263.4,369.2 263.8,368.6 264,368 264.2,367 264.4,365.6 264.6,363.5 264.8,360.6 265,356.9 265.2,352.5 265.4,347.5 265.6,342.3 265.8,337.6 266,334.1 266.2,332.5 266.4,333.2 266.6,336 266.8,340.3 267,345.3 267.2,350.5 267.4,355.2 267.6,359.2 267.8,362.4 268,364.8 268.2,366.5 268.4,367.7 268.6,368.4 268.8,368.9 269.2,369.4 270.2,369.9 271.2,370 272.2,370.1 273.2,370.1 274.2,370.1 275.2,370.1 276.2,370 277.2,369.9 278.2,369.7 279.2,369.4 280,369 280.4,368.5 280.8,367.7 281,367 281.2,366 281.4,364.6 281.6,362.6 281.8,359.9 282,356.3 282.2,351.8 282.4,346.4 282.6,340 282.8,333.1 283,325.9 283.2,319 283.4,313 283.6,308.8 283.8,306.9 284,307.7 284.2,311 284.4,316.3 284.6,322.9 284.8,330.1 285,337.2 285.2,343.8 285.4,349.7 285.6,354.6 285.8,358.5 286,361.5 286.2,363.8 286.4,365.4 286.6,366.6 286.8,367.4 287,367.9 287.4,368.6 288,369.1 289,369.5 290,369.7 291,369.8 292,369.8 293,369.9 294,369.9 295,369.8 296,369.8 297,369.7 298,369.6 299,369.5 300,369.1 300.6,368.5 301,367.7 301.2,367.2 301.4,366.6 301.6,365.8 301.8,365 302,364.1 302.2,363.2 302.4,362.4 302.6,361.7 302.8,361.2 303.6,361.7 303.8,362.4 304,363.1 304.2,363.8 304.4,364.5 304.6,365.1 304.8,365.6 305.2,366.3 306.2,366.1 306.6,365.3 306.8,364.7 307,363.9 307.2,362.8 307.4,361.4 307.6,359.7 307.8,357.4 308,354.6 308.2,351 308.4,346.7 308.6,341.4 308.8,335.2 309,328.1 309.2,319.9 309.4,310.9 309.6,301 309.8,290.6 310,279.9 310.2,269.3 310.4,259.2 310.6,250 310.8,242.4 311,236.7 311.2,233.4 311.4,232.9 311.6,235 311.8,239.8 312,246.7 312.2,255.3 312.4,265.1 312.6,275.6 312.8,286.3 313,296.8 313.2,306.9 313.4,316.3 313.6,324.8 313.8,332.4 314,339 314.2,344.6 314.4,349.3 314.6,353.2 314.8,356.3 315,358.8 315.2,360.8 315.4,362.3 315.6,363.5 315.8,364.5 316,365.2 316.2,365.7 316.4,366.2 316.8,366.8 317.2,367.3 317.8,367.7 318.6,368.1 319.6,368.4 320.6,367.9 321,367.2 321.2,366.8 321.4,366.2 321.6,365.6 321.8,364.9 322,364.2 322.2,363.4 322.4,362.6 322.6,361.9 322.8,361.2 323,360.8 324,361.7 324.2,362.5 324.4,363.3 324.6,364.1 324.8,364.9 325,365.7 325.2,366.4 325.4,367 325.6,367.5 325.8,368 326.2,368.6 326.8,369.1 327.8,369.4 328.8,369.5 329.8,369.5 330.8,369.4 331.8,368.9 332.2,368.5 332.6,367.8 332.8,367.4 333,367 333.2,366.4 333.4,365.9 333.6,365.3 333.8,364.8 334,364.3 334.4,363.7 335.2,364.1 335.4,364.5 335.6,365 335.8,365.5 336,366 336.2,366.5 336.4,367 336.6,367.4 337,368 337.6,368.5 338.6,368.7 339.6,368.4 340.6,367.9 341.2,367.4 341.6,366.8 342,365.9 342.2,365.3 342.4,364.4 342.6,363.3 342.8,361.9 343,360.1 343.2,357.8 343.4,354.9 343.6,351.3 343.8,347 344,341.9 344.2,336 344.4,329.2 344.6,321.8 344.8,313.7 345,305.2 345.2,296.5 345.4,288 345.6,280.1 345.8,273.1 346,267.5 346.2,263.8 346.4,262.2 346.6,262.9 346.8,265.8 347,270.6 347.2,277.1 347.4,284.7 347.6,293 347.8,301.7 348,310.3 348.2,318.5 348.4,326.3 348.6,333.3 348.8,339.6 349,345 349.2,349.7 349.4,353.5 349.6,356.7 349.8,359.2 350,361.2 350.2,362.8 350.4,364 350.6,365 350.8,365.7 351,366.3 351.2,366.7 351.6,367.4 352,367.8 352.6,368.2 353.6,368.7 354.6,369 355.6,369.2 356.6,369.4 357.6,369.5 358.6,369.6 359.6,369.7 360.6,369.7 361.6,369.8 362.6,369.8 363.6,369.8 364.6,369.8 365.6,369.7 366.6,369.5 367.2,369 367.6,368.6 368,368 368.4,367.3 368.8,366.7 369.2,366.2 370.2,366.3 370.6,366.9 371,367.6 371.4,368.2 371.8,368.8 372.2,369.2 373,369.6 374,369.8 375,369.9 376,369.9 377,369.9 378,369.9 379,369.9 380,369.8 381,369.8 382,369.6 383,369.1 383.4,368.5 383.8,367.8 384,367.3 384.2,366.7 384.4,366.1 384.6,365.5 384.8,364.8 385,364.1 385.2,363.5 385.4,362.9 385.6,362.4 386,362 386.6,362.7 386.8,363.2 387,363.8 387.2,364.5 387.4,365.2 387.6,365.8 387.8,366.5 388,367 388.2,367.6 388.4,368 388.8,368.7 389.2,369.1 390,369.6 391,369.8 392,369.8 393,369.8 394,369.8 395,369.8 396,369.8 397,369.8 398,369.8 399,369.8 400,369.8 401,369.7 402,369.5 402.8,369.1 403.4,368.4 403.8,367.8 404.2,367.1 404.6,366.3 405,365.6 405.4,365 406.4,365.1 406.8,365.7 407.2,366.4 407.6,367.1 408,367.6 408.6,368.1 409.6,368 410.6,367.6 411.6,367.9 412.2,368.3 412.8,368.7 413.6,369.2 414.6,369.4 415.6,369.4 416.6,369.4 417.6,369.3 418.6,369.2 419.6,369.1 420.6,369 421.6,368.8 422.6,368.5 423.6,368.1 424.4,367.6 425,366.9 425.4,366.3 425.6,365.8 425.8,365.2 426,364.5 426.2,363.6 426.4,362.4 426.6,361 426.8,359.3 427,357.3 427.2,354.8 427.4,351.9 427.6,348.5 427.8,344.6 428,340.2 428.2,335.3 428.4,329.9 428.6,324 428.8,317.9 429,311.5 429.2,305.1 429.4,298.8 429.6,292.9 429.8,287.5 430,282.8 430.2,279.2 430.4,276.8 430.6,275.8 430.8,276.2 431,278.1 431.2,281.2 431.4,285.4 431.6,290.5 431.8,296.3 432,302.5 432.2,308.9 432.4,315.3 432.6,321.5 432.8,327.4 433,333 433.2,338.1 433.4,342.8 433.6,346.9 433.8,350.5 434,353.6 434.2,356.2 434.4,358.4 434.6,360.2 434.8,361.7 435,363 435.2,363.9 435.4,364.7 435.6,365.4 435.8,365.9 436.2,366.6 436.6,367 437.4,367.5 438.4,367.5 439.2,367 439.6,366.6 440,366 440.4,365.4 440.8,364.8 441.2,364.3 441.8,363.9 442.6,364.3 443,364.9 443.4,365.6 443.8,366.3 444.2,366.9 444.6,367.5 445,367.9 445.6,368.4 446.6,368.7 447.6,368.8 448.6,368.8 449.6,368.8 450.6,368.7 451.6,368.6 452.6,368.4 453.6,368.1 454.6,367.8 455.4,367.4 456,367 456.6,366.3 457,365.7 457.2,365.2 457.4,364.7 457.6,364.1 457.8,363.2 458,362.2 458.2,361 458.4,359.4 458.6,357.6 458.8,355.3 459,352.6 459.2,349.3 459.4,345.5 459.6,341.2 459.8,336.2 460,330.6 460.2,324.4 460.4,317.6 460.6,310.4 460.8,302.8 461,295.1 461.2,287.2 461.4,279.6 461.6,272.4 461.8,265.9 462,260.3 462.2,256 462.4,253.2 462.6,251.9 462.8,252.4 463,254.6 463.2,258.3 463.4,263.4 463.6,269.5 463.8,276.5 464,283.9 464.2,291.7 464.4,299.5 464.6,307.1 464.8,314.5 465,321.4 465.2,327.8 465.4,333.7 465.6,338.9 465.8,343.5 466,347.5 466.2,350.9 466.4,353.8 466.6,356.2 466.8,358.2 467,359.9 467.2,361.2 467.4,362.2 467.6,363.1 467.8,363.8 468,364.3 468.2,364.7 468.6,365.3 469.2,365.8 470.2,366.1 471.2,365.6 471.6,365.1 472,364.2 472.2,363.5 472.4,362.7 472.6,361.7 472.8,360.5 473,359.1 473.2,357.3 473.4,355.2 473.6,352.8 473.8,350 474,346.9 474.2,343.4 474.4,339.5 474.6,335.4 474.8,330.9 475,326.3 475.2,321.5 475.4,316.8 475.6,312.2 475.8,307.9 476,304 476.2,300.7 476.4,298.1 476.6,296.4 476.8,295.7 477.2,297.4 477.4,299.6 477.6,302.7 477.8,306.4 478,310.6 478.2,315.1 478.4,319.9 478.6,324.6 478.8,329.4 479,333.9 479.2,338.3 479.4,342.3 479.6,346 479.8,349.3 480,352.3 480.2,354.9 480.4,357.2 480.6,359.1 480.8,360.7 481,362.1 481.2,363.2 481.4,364.1 481.6,364.9 481.8,365.5 482,366 482.2,366.4 482.6,367 483,367.5 483.6,367.9 484.6,368.3 485.6,368.6 486.6,368.8 487.6,368.9 488.6,369 489.6,369.1 490.6,369.2 491.6,369.3 492.6,369.3 493.6,369.4 494.6,369.4 495.6,369.4 496.6,369.4 497.6,369.5 498.6,369.5 499.6,369.5 500.6,369.5 501.6,369.5 502.6,369.5 503.6,369.5 504.6,369.5 505.6,369.5 506.6,369.5 507.6,369.5 508.6,369.4 509.6,369.4 510.6,369.3 511.6,369.1 512.4,368.6 513,368.1 513.4,367.6 513.8,367 514.2,366.3 514.6,365.6 515,364.9 515.4,364.2 515.8,363.7 516.8,363.5 517.2,364 517.6,364.6 518,365.3 518.4,366 518.8,366.6 519.2,367.2 519.6,367.7 520.2,368.1 521.2,368.4 522.2,368.1 522.8,367.6 523.2,367 523.6,366.1 523.8,365.6 524,364.9 524.2,364.1 524.4,363.2 524.6,362.2 524.8,361.1 525,359.8 525.2,358.4 525.4,356.9 525.6,355.3 525.8,353.5 526,351.7 526.2,349.9 526.4,348.1 526.6,346.3 526.8,344.5 527,342.9 527.2,341.5 527.4,340.3 527.6,339.4 527.8,338.8 528.6,339.9 528.8,341 529,342.3 529.2,343.9 529.4,345.5 529.6,347.3 529.8,349.1 530,351 530.2,352.8 530.4,354.5 530.6,356.2 530.8,357.8 531,359.2 531.2,360.5 531.4,361.7 531.6,362.8 531.8,363.7 532,364.6 532.2,365.3 532.4,365.9 532.6,366.4 532.8,366.8 533.2,367.5 533.6,367.9 534.4,368.3 535.4,368.4 536.4,368.1 537,367.7 537.6,367.1 538,366.7 538.4,366.2 538.8,365.8 539.4,365.3 540.4,365.3 541,365.7 541.4,366.1 541.8,366.6 542.2,367 542.8,367.6 543.6,368 544.6,367.9 545.2,367.4 545.6,366.9 546,366.2 546.2,365.7 546.4,365.3 546.6,364.7 546.8,364.2 547,363.6 547.2,363 547.4,362.4 547.6,361.8 547.8,361.2 548,360.6 548.2,360 548.4,359.5 548.6,359.1 549,358.5 550,358.9 550.4,359.8 550.6,360.3 550.8,360.9 551,361.5 551.2,362.1 551.4,362.7 551.6,363.3 551.8,363.9 552,364.5 552.2,365 552.4,365.5 552.6,365.9 552.8,366.3 553.2,367 553.6,367.6 554.2,368.1 555.2,368.5 556.2,368.5 557.2,368.3 558.2,367.8 558.6,367.4 559,366.8 559.4,366 559.6,365.5 559.8,364.9 560,364.3 560.2,363.5 560.4,362.7 560.6,361.8 560.8,360.8 561,359.8 561.2,358.6 561.4,357.4 561.6,356.1 561.8,354.8 562,353.5 562.2,352.2 562.4,350.9 562.6,349.6 562.8,348.5 563,347.4 563.2,346.5 563.4,345.7 563.6,345.2 564,344.7 564.6,345.6 564.8,346.2 565,347 565.2,347.9 565.4,348.9 565.6,349.9 565.8,350.9 566,351.8 566.2,352.8 566.4,353.7 566.6,354.5 566.8,355.2 567,355.8 567.2,356.3 567.4,356.8 567.8,357.4 568.4,357.8 569.4,358.3 569.8,358.8 570.2,359.5 570.4,359.9 570.6,360.3 570.8,360.8 571,361.3 571.2,361.7 571.4,362.2 571.6,362.7 571.8,363.1 572,363.5 572.4,364.2 572.8,364.7 573.8,364.7 574.2,364.1 574.4,363.7 574.6,363.2 574.8,362.6 575,361.9 575.2,361.1 575.4,360.3 575.6,359.3 575.8,358.3 576,357.2 576.2,356.1 576.4,354.9 576.6,353.7 576.8,352.4 577,351.2 577.2,350 577.4,348.9 577.6,347.8 577.8,346.9 578,346.1 578.2,345.4 578.4,344.9 578.8,344.4 579.4,344.8 579.8,345.6 580,346.1 580.2,346.5 580.4,347 580.8,347.7 581.8,347.5 582.2,346.7 582.4,346.1 582.6,345.5 582.8,344.8 583,344.2 583.2,343.5 583.4,342.9 583.6,342.4 584,341.8 584.6,342.3 584.8,342.9 585,343.7 585.2,344.6 585.4,345.7 585.6,346.9 585.8,348.1 586,349.5 586.2,350.9 586.4,352.3 586.6,353.7 586.8,355.1 587,356.4 587.2,357.7 587.4,358.9 587.6,360 587.8,361 588,362 588.2,362.9 588.4,363.7 588.6,364.4 588.8,365 589,365.6 589.2,366 589.4,366.5 589.8,367.1 590.2,367.6 590.8,368.1 591.8,368.6 592.8,368.8 593.8,368.9 594.8,369 595.8,369.1 596.8,369.1 597.8,369.2 598.8,369.1 599.8,369 600.8,368.8 601.8,368.4 602.6,367.8 603.2,367.3 603.8,366.8 604.4,366.4 605.4,365.9 606.4,366.2 607,366.6 607.6,367.1 608.2,367.6 608.8,368.1 609.6,368.6 610.6,369 611.6,369.2 612.6,369.3 613.6,369.4 614.6,369.4 615.6,369.4 616.6,369.4 617.6,369.4 618.6,369.4 619.6,369.4 620.6,369.4 621.6,369.3 622.6,369.3 623.6,369.2 624.6,369.2 625.6,369 626.6,368.7 627.4,368.3 628,367.8 628.6,367.2 629,366.7 629.4,366.2 629.8,365.7 630.2,365.2 630.6,364.7 631,364.2 631.6,363.8 632.6,363.6 633.6,363.7 634.4,363.2 634.8,362.7 635,362.2 635.2,361.7 635.4,361.2 635.6,360.5 635.8,359.7 636,358.8 636.2,357.9 636.4,356.8 636.6,355.7 636.8,354.5 637,353.3 637.2,352 637.4,350.7 637.6,349.4 637.8,348.1 638,346.9 638.2,345.7 638.4,344.6 638.6,343.7 638.8,342.8 639,342.2 639.2,341.7 640.2,342.6 640.4,343.4 640.6,344.3 640.8,345.4 641,346.6 641.2,347.8 641.4,349.2 641.6,350.5 641.8,351.9 642,353.2 642.2,354.6 642.4,355.9 642.6,357.1 642.8,358.3 643,359.4 643.2,360.5 643.4,361.5 643.6,362.3 643.8,363.2 644,363.9 644.2,364.6 644.4,365.1 644.6,365.7 644.8,366.1 645,366.5 645.4,367.2 645.8,367.7 646.4,368.1 647.4,368.6 648.4,368.7 649.4,368.6 650.4,368.3 651.2,367.9 651.8,367.5 652.4,366.9 653,366.4 653.6,365.9 654.4,365.4 655.4,365.5 656.2,366 656.8,366.6 657.4,367.2 658,367.7 658.6,368.2 659.4,368.7 660.4,369 661.4,369.2 662.4,369.2 663.4,369.1 664.4,368.8 665.4,368.4 666.4,367.9 667.4,367.6 668.4,367.5 669.4,367.8 670.4,368.3 671.4,368.8 672.4,369.1 673.4,369.3 674.4,369.4 675.4,369.5 676.4,369.5 677.4,369.5 678.4,369.5 678.6,369.5" fill="none" stroke="#000" stroke-width="1.8" stroke-linejoin="round"/>
<path d="M143 382.6V392.3M181.1 382.6V392.3M217.7 382.6V392.3M259.7 382.6V392.3M266.3 382.6V392.3M283.5 382.6V392.3M302.8 382.6V392.3M310.9 382.6V392.3M323.6 382.6V392.3M334.5 382.6V392.3M346.1 382.6V392.3M369.4 382.6V392.3M379.8 382.6V392.3M386.2 382.6V392.3M406.1 382.6V392.3M410 382.6V392.3M422 382.6V392.3M430.5 382.6V392.3M441.3 382.6V392.3M452.2 382.6V392.3M458.4 382.6V392.3M462.5 382.6V392.3M466.9 382.6V392.3M477.2 382.6V392.3M479.4 382.6V392.3M497.7 382.6V392.3M516.8 382.6V392.3M527.6 382.6V392.3M533.5 382.6V392.3M536.8 382.6V392.3M539.9 382.6V392.3M548.5 382.6V392.3M550.5 382.6V392.3M559.2 382.6V392.3M563.3 382.6V392.3M569 382.6V392.3M572 382.6V392.3M578.3 382.6V392.3M584.5 382.6V392.3M587.5 382.6V392.3M590.3 382.6V392.3M605 382.6V392.3M609.5 382.6V392.3M615 382.6V392.3M622.6 382.6V392.3M629.7 382.6V392.3M633.6 382.6V392.3M639.2 382.6V392.3M650.5 382.6V392.3M654.5 382.6V392.3M659 382.6V392.3M664 382.6V392.3M672.5 382.6V392.3" stroke="#008000" stroke-width="5" stroke-linecap="round"/>
<polyline points="110,410 111.4,410.5 112.8,410.3 114.2,410.9 114.9,410 115.6,410.5 117,410.3 118.4,410.2 119.8,410.4 121.2,410.5 122.6,410.3 124,410.7 125.4,410.2 126.8,410.1 128.2,410.2 129.6,409.6 130.3,410.2 131.7,410.2 133.1,410.6 133.8,410 135.2,409.9 136.6,410.5 138,410.3 139.4,410 140.8,410.1 142.2,410.2 143.6,410.2 145,409.9 146.4,410 147.1,410.5 148.5,410.1 149.9,410.1 150.6,410.6 152,410.1 153.4,410 154.8,409.8 156.2,410.2 157.6,410.1 158.3,410.6 159,410.1 160.4,410.5 161.8,410.3 162.5,409.7 163.9,410.4 165.3,410.6 166,409.8 166.7,410.4 168.1,410.6 169.5,410.5 170.9,409.8 172.3,410 173.7,410.5 175.1,410.3 176.5,410.2 177.9,410.6 179.3,410.3 180.7,409.6 182.1,409.9 183.5,410.2 184.9,410.1 185.6,410.6 186.3,409.9 187.7,410.1 189.1,410 190.5,410.5 191.2,409.5 192.6,409.6 194,408.9 195.4,408.6 196.8,408.3 198.2,409.1 199.6,409.9 201,410 202.4,409.8 203.8,409.8 205.2,410 206.6,410.2 208,409.7 208.7,410.6 210.1,410.1 211.5,410.2 212.9,410.8 213.6,409.8 215,410.3 215.7,409.4 216.4,408.8 217.1,407.7 217.8,408.4 219.2,409.8 220.6,410.1 222,410.3 223.4,410.3 224.8,410.5 226.2,410.3 227.6,410.2 229,410.1 230.4,410 231.1,410.6 232.5,410.1 233.9,410.1 235.3,410.3 236.7,410.1 238.1,409.9 239.5,410 240.9,410.2 242.3,410.2 243.7,409.9 245.1,410.1 246.5,410.2 247.9,409.6 248.6,410.3 249.3,409.8 250,410.5 250.7,409.6 252.1,409.7 252.8,410.7 253.5,409.8 254.9,410 256.3,410.1 257.7,410.1 259.1,410.1 260.5,410.1 261.9,410.7 263.3,410.3 264.7,410 265.4,410.6 266.1,409.9 267.5,410.2 268.9,410.8 269.6,409.5 270.3,410.3 271.7,409.9 273.1,410.3 274.5,410 275.9,410.5 277.3,410.2 278,409.6 278.7,410.7 280.1,410.8 281.5,411.2 282.2,412.1 282.9,413.4 284.3,411.8 285,411.2 286.4,410.4 287.8,410.3 289.2,410.2 290.6,410.1 292,410.3 293.4,410.1 294.8,410.6 296.2,410.2 297.6,410.3 299,410.3 300.4,410.6 301.8,410.1 303.2,410.3 304.6,409.7 306,410.1 307.4,409.7 308.1,408.3 309.5,407.1 310.2,407.6 310.9,408.5 312.3,409.6 313.7,409.8 315.1,410.2 316.5,410.4 317.9,410 319.3,410 320.7,410.2 322.1,410.2 323.5,410.1 324.9,410.6 325.6,410 327,409.4 328.4,409.4 329.1,408.5 330.5,407.9 331.2,407.1 332.6,407.5 333.3,408.7 334.7,409.5 335.4,410.4 336.8,410.2 338.2,409.8 339.6,410.3 341,410.4 342.4,410.9 343.8,411.5 344.5,412 345.2,412.9 345.9,412.3 346.6,411.5 347.3,410.5 348.7,410.3 350.1,410 351.5,410.4 352.9,409.9 354.3,410.1 355.7,410.1 357.1,410 358.5,410.2 359.9,409.9 361.3,410.2 362.7,409.8 364.1,410.5 365.5,410.6 366.9,410.1 368.3,410 369,410.6 370.4,410.4 371.8,410.2 373.2,410.2 374.6,410.3 376,410.2 377.4,410.1 378.8,410.5 379.5,409.6 380.2,410.1 380.9,410.9 381.6,410.1 383,410.2 384.4,410.1 385.8,410.2 387.2,411.1 387.9,410.2 389.3,410.1 390.7,410.3 392.1,410.2 393.5,410.3 394.9,410.1 396.3,410 397.7,410.2 399.1,410.2 400.5,409.8 401.9,409.8 403.3,409.1 404.7,408.7 406.1,408.5 407.5,408.5 408.9,409.9 410.3,410.3 411,409.7 412.4,410.4 413.8,410.1 415.2,409.8 415.9,410.4 417.3,410.3 418.7,410.3 420.1,410.5 421.5,410.5 422.9,410.4 423.6,409.5 424.3,410.5 425.7,410.3 427.1,410 428.5,411.4 429.2,412.6 429.9,413.2 430.6,413.9 432,412.3 433.4,410.7 434.1,410.2 435.5,410.7 436.2,409.7 436.9,410.4 437.6,409.6 439,408.8 439.7,408 441.1,408.6 441.8,409.3 443.2,409.8 444.6,409.9 446,409.9 447.4,409.4 448.1,410.2 449.5,410.9 450.2,410.4 451.6,410.3 452.3,409.8 453.7,409.6 454.4,410.5 455.8,409.8 457.2,410.3 458.6,410 459.3,409.5 460.7,407.9 461.4,404.6 462.1,399.1 462.8,396.4 463.5,400.8 464.2,407.3 464.9,413.9 465.6,416.2 466.3,415.1 467,413 467.7,411.2 468.4,410.6 469.1,409.9 470.5,410.3 471.9,410.4 473.3,409.8 474,409.2 474.7,408.2 475.4,405.9 476.1,403.4 476.8,401.9 477.5,403.7 478.2,405.5 478.9,408.1 479.6,408.8 480.3,410 481.7,410.2 482.4,409.6 483.8,410.4 484.5,409.9 485.9,410 486.6,409.5 487.3,410.2 488.7,409.8 490.1,409.9 491.5,410.2 492.9,410.8 493.6,409.7 494.3,410.4 495.7,409.6 497.1,410.3 498.5,410.3 499.9,410.1 501.3,409.4 502,410.3 503.4,410.3 504.8,409.8 505.5,410.7 506.9,410.4 507.6,409.9 509,410.1 510.4,409.9 511.8,410.3 513.2,410.1 513.9,410.6 515.3,409.5 516,410 517.4,410.5 518.8,410.2 520.2,410.5 521.6,410.1 523,410.7 524.4,410.7 525.1,412 526.5,413.2 527.9,413.1 528.6,412.4 529.3,411.3 530.7,410.2 531.4,410.9 532.8,410.7 533.5,410.2 534.9,410.7 536.3,410.3 537.7,410.4 539.1,409.8 539.8,410.5 541.2,410.1 541.9,410.7 543.3,410.1 544.7,410.3 546.1,410.2 547.5,410 548.9,410.3 550.3,410.5 551.7,410.3 553.1,410.2 554.5,411.2 555.9,411.2 557.3,410.7 558,410 559.4,410.6 560.8,410.6 562.2,410.3 563.6,410.3 565,410.4 565.7,411.3 567.1,411.2 568.5,410.5 569.9,410.7 571.3,410.3 572.7,410.5 573.4,410 574.1,410.5 575.5,410.1 576.9,409.7 578.3,410 579.7,409.8 581.1,409.9 582.5,408.9 583.2,408.4 583.9,407.1 584.6,406.5 586,406.2 587.4,408 588.8,408.7 589.5,409.5 590.2,410.2 591.6,410.3 593,409.9 594.4,410.1 595.1,410.6 595.8,409.8 596.5,410.6 597.2,409.9 598.6,410.4 600,410.3 600.7,409.7 601.4,410.3 602.8,410.9 603.5,410.1 604.9,409.9 606.3,409.9 607,410.7 608.4,410.9 609.8,410.8 611.2,410.5 612.6,410.6 613.3,410 614.7,410.5 615.4,410 616.8,410 617.5,410.6 618.9,410.1 620.3,410 621.7,410.5 622.4,409.8 623.1,410.5 623.8,409.8 625.2,409.7 625.9,410.8 626.6,410.2 628,410 629.4,409.6 630.1,410.2 630.8,410.8 631.5,410.1 632.9,410.4 634.3,410.2 635.7,410.3 637.1,410.4 638.5,411.2 639.2,412 640.6,411.2 641.3,410.1 642,410.7 643.4,410 644.8,409.9 645.5,410.5 646.2,409.9 647.6,410.3 649,410.2 650.4,410.1 651.1,410.7 652.5,410.2 653.9,410 655.3,410 656.7,410.3 658.1,410.4 659.5,410 660.9,410.9 661.6,409.9 663,410.5 664.4,410 665.8,410.4 667.2,410.6 668.6,410.5 669.3,409.9 670.7,410 672.1,410.4 673.5,409.9 674.2,410.6 675.6,409.9 677,409.8 678.4,410.3" fill="none" stroke="#00f" stroke-width="3.1" stroke-linejoin="round" stroke-linecap="round"/>
<polyline points="40.1,568.8 41,568.6 41.9,568.8 42.9,568.9 43.8,568.9 44.7,568.7 45.6,569.6 46.2,568.5 47.1,568.9 48,569 48.9,568.8 49.8,569.2 50.7,568.7 51.6,569.1 52.5,569.1 53.4,568.5 54.3,569.3 55.2,569 56.1,568.9 57,569.2 57.9,569 58.8,569.1 59.7,568.3 60.6,568.8 61.5,569 62.4,568.5 63.3,568.7 64.2,569.3 65.1,568.6 66,568.4 66.8,569.6 66.9,568.6 67.8,568.6 68.7,568.5 69.6,568.8 70.6,568.4 71.5,568.9 72.4,568.7 73.3,569.2 73.7,567.9 74.3,569.1 75.2,569.1 76.1,568.4 77,568.6 77.9,569.4 78.8,568.5 79.7,569.1 80.6,568.6 81.5,568.5 82.4,568.9 83.3,569 84.3,569 85.2,569.1 86.1,569.1 87,569.2 87.9,568.7 88.8,569.1 89.7,568.8 90.6,568.1 91.5,568.5 92.4,568.7 93.3,568 94.2,567.9 95.1,567.8 96,567.2 96.9,566.6 97.3,565.4 97.9,563.4 98.3,561.1 98.4,558.5 98.6,555.7 98.7,551.4 98.9,546.5 99,540.1 99.2,531.9 99.3,521.9 99.5,511.8 99.6,500.7 99.8,489.3 99.9,478.8 100.1,469.1 100.2,463.4 100.4,460.5 100.5,462.2 100.7,467.4 100.8,475.7 101,485.4 101.1,496.7 101.3,507.5 101.4,518.2 101.6,528.5 101.7,536.8 101.9,543.4 102,549.3 102.2,554.1 102.3,557.9 102.5,560.3 102.6,562.1 102.9,564 103.2,565.4 103.7,566.8 104.6,567.6 105.5,567.8 106.4,567.9 107.3,567.6 108.2,568.1 108.5,569.1 108.9,568 109.8,568.5 110.7,568.5 111.6,568.6 112.6,568.7 113.5,569.3 114.1,568.3 115,568.8 115.9,569.3 116.3,568.1 116.8,569.5 117.2,568.2 118.1,569.1 119,569.3 119.6,568 119.9,569.1 120.8,569 121.7,569 122.6,568.6 123.5,569.2 124.4,569 125.3,568.6 126.3,569 127.2,568.5 128.1,568.1 128.5,569.2 129.4,568.9 130.3,568.8 131.2,568.7 132.1,568.8 133,568.5 133.9,568.5 134.8,568.7 135.7,568.6 136.6,569 137.5,570 137.7,569 138.6,568.9 139.5,568.2 140.4,567.9 141.2,566.8 141.3,565.7 141.9,563.2 142.8,563.4 143,564.6 143.6,566.4 144,567.4 144.9,568.2 145.8,568.1 146.7,568.4 147.6,568.5 148.5,569 149.4,569.1 150.3,569 151.2,568.8 152.1,568.9 153,568.8 154,568.6 154.9,569 155.8,568.4 156.7,569 157.6,569.5 157.7,568.3 158.5,569.5 159.4,569 160.3,569.4 160.6,568.1 161.5,569.3 162.4,568.1 163.3,568.7 164.2,569.1 165.1,568.8 166,569.4 166.9,569.2 167.6,567.8 168,568.9 168.9,569.3 169.8,568.7 170.7,569 171.6,568.8 172.5,569 173.4,569.1 173.5,567.9 174.3,569.1 175.2,568.9 176.1,568.7 177,568.7 177.9,568.2 178.8,567.6 179.2,566.1 179.5,564.9 179.8,562.9 180.3,560.9 180.6,559.7 181,558.5 181.3,559.9 181.5,561 181.8,562.3 182,563.9 182.4,565 182.6,566.8 183.3,568.5 184.2,568.5 185.1,568.5 186,568.9 186.9,568.5 187.8,569 188.7,568.9 189.6,568.8 190.5,568.8 191.4,568.8 192.3,568.4 192.8,569.4 193.7,569.3 194.6,569.1 195.5,569.5 196.4,569 197.3,568.9 198.2,568.7 199.1,569 200,568.9 200.9,568.8 201.8,568.6 202.7,568.7 203.6,568.4 204.5,569 205.4,569 206.3,568.8 207.2,568.8 208.1,568.5 209,568.9 210,568.9 210.9,568.4 211.8,568.6 212.7,568.4 213.6,568 214.5,567.4 215.1,566.2 215.2,565.1 215.5,563.1 215.7,561.6 215.8,559.7 216,557.2 216.1,555.3 216.3,552.6 216.4,549.9 216.6,547.4 216.7,545.5 216.9,543.7 217,541.4 217.8,544 217.9,546.5 218.1,548.5 218.2,550.8 218.4,553.7 218.5,555.4 218.7,558.2 218.8,560.5 219,561.9 219.1,563.5 219.3,564.6 219.4,565.6 219.9,567 220.2,568 221.1,568.7 222,568.5 222.9,568.6 223.8,568.8 224.4,567.8 224.6,568.8 225.5,568.2 226.4,568.6 226.7,569.7 226.8,568.7 227.7,568.5 228.6,569.1 229.5,568.6 230.4,568.7 231.3,569.5 231.5,568.5 232.4,569.1 233.3,568.8 234.2,568.6 235.1,569.1 236,569.2 236.9,568.5 237.8,568.5 238.7,569 239.6,568.2 240.5,569.1 241.4,569 242.3,568.8 243.2,568.7 244.1,568.5 245,568.8 245.9,568.7 246.8,568.9 247.7,568.3 248.2,569.4 249.1,568.7 250,568.7 250.9,568.6 251.8,569.1 252.7,568.6 253.6,568.9 254.5,568.2 255.4,568.8 256.3,567.9 256.8,566.8 257.2,565.7 257.5,563.8 257.8,562.7 258,561.4 258.1,559.9 258.4,558.2 258.7,556.8 259.6,558.8 259.9,561 260.2,562.8 260.5,564.5 260.8,566 261.1,567.7 262,568.8 262.9,567.6 263.2,569.1 263.4,568 264.3,568.3 265.2,567.8 265.3,566.8 266.1,568.2 266.4,567.1 267.2,568.2 268.1,568.9 269,568.7 269.9,568.9 270.8,568.8 271.7,568.9 272.6,569 273.5,569.2 274.4,569.4 275,568.1 275.9,568.4 276.8,568.5 277.7,568.5 278.6,569.2 279.4,568.1 280.3,568.2 280.7,566.7 281.2,565.5 281.5,564.5 281.6,563.1 281.9,560.8 282.1,559.7 282.2,558 282.4,556.1 282.5,555 282.7,553.5 283,551.2 283.9,553.1 284,554.6 284.2,556.1 284.3,557.5 284.5,558.9 284.6,560.3 284.8,562.3 285.1,563.8 285.4,565.6 286,567.6 286.7,568.8 287.6,567.9 288.5,568.4 289.4,568.8 290.3,568.5 291.2,568.7 292.1,568.6 293,568.1 294,568.8 294.9,569.3 295.8,568.9 296.7,569.1 297.6,569 298.5,569.3 299.4,569 300.3,569.1 301.2,568.1 302.1,568.1 303,567.9 303.9,568.5 304.8,568.7 305.7,568.9 306.6,569.4 307.4,568.2 308.3,568 308.7,567 309.6,566 309.9,564.9 310.8,565.2 311.6,566.6 311.9,567.9 312.8,568.4 313.7,569 314.6,568.3 314.7,569.3 315.6,568.8 316.5,569.2 317.4,569.1 318.3,568.3 319.2,569.5 319.5,568.5 320.4,569.3 321.4,568.7 321.7,567.6 322,568.7 322.4,567.6 323.3,568 324.2,567.3 325.1,568.2 326,568.7 326.9,568.6 327.8,568.9 328.7,569.2 329.6,568.6 330.5,569.1 331.4,569 332.3,568.4 333.2,569.3 334,568.2 334.9,568.8 335.8,569.1 336,567.9 336.4,568.9 337.3,568.7 338.2,568.8 339.1,568.5 340,569.4 340.2,568.3 341.1,569 342,568.5 342.9,567.6 343.5,566 343.8,564.5 344.1,562.8 344.5,560.6 345,559.4 345.9,560.6 346.2,562 346.5,563.1 346.8,564.8 347.2,566.6 347.7,567.8 348.6,568.2 349.5,568.9 350.4,568 350.9,569.1 351.8,568.7 352.7,568.6 353.6,569.1 354.5,569.2 355.4,568.8 356.3,568.6 357.2,568.3 358.1,569 359,568.6 359.9,569 360.8,568.4 361.7,568.7 362.6,569.3 363.5,568.9 364.4,569.3 365.3,568.9 366.2,568.5 367.1,568.5 368,568.1 368.9,567.5 369.8,567.7 370.7,568.6 370.9,567.5 371.8,568.4 372.7,568.4 373.6,568.5 374.5,568.7 375.4,568.3 376.1,569.4 376.7,568.4 377.7,568.7 378.6,567.9 379.5,567.8 380.4,568.4 381.3,568.4 382.2,568.5 383.1,568.7 384,569 384.9,569 385.8,569 386.7,568.3 386.8,569.4 387.7,569 388.6,568.8 389.5,568.5 390.4,568.9 391.4,569.2 392.3,568.8 393.2,568.5 393.9,569.6 394.2,568.5 395.1,568.5 396,568.7 396.9,568.9 397.8,568.7 398.4,569.8 398.6,568.5 399.5,568.4 400.4,569 401.3,568.6 402.2,568.6 403.1,568.9 404,568 404.9,568.4 405.8,568.1 406.7,568.8 407.6,568.4 408.5,569.1 409.4,569 410.3,568.9 411.2,569.3 412.1,569.1 413,569.2 413.9,569.1 414.8,568.8 415.7,568.9 416.6,569 417.5,569.3 418.4,568.2 419.4,569.1 420.3,569.5 421.2,568.8 422.1,568.7 423,568.9 423.9,568.6 424.8,568.8 425.7,568.7 426.6,568.6 427.5,568.9 428.2,567.7 429.1,565.9 429.6,564.4 430.2,563.3 431.1,563.7 431.7,565.2 432.1,566.7 433.1,567.8 434,567.9 434.9,568.8 435.8,568.1 436.7,569 437.6,568.6 438.5,568.7 439.4,568.9 440.3,568.8 441.2,568.4 442.1,568.8 443,568.9 443.9,568.7 444.2,570 444.3,568.9 445.2,568.9 446.1,569 447.1,568.7 448,568.5 448.9,567.7 449.8,567.7 450.1,566.6 450.2,567.8 451.1,568.1 452,568.4 452.9,568.4 453.8,568.1 454,569.4 454.9,568.4 455.8,569.4 456.7,568.9 457.6,568.7 458.5,568.4 459.4,568.1 459.7,566.5 460.3,565.3 460.9,563.6 461.7,562.3 462.3,563.3 462.9,565.1 463.5,566.3 464.1,567.6 465,568.4 465.9,569 466.8,569.1 467.7,568.7 468.6,569 469.5,568.5 470.4,568.9 471.3,568.7 472.2,568.7 473.1,568.6 474,568.3 474.6,567 475.4,565.8 476.3,565.9 477.2,566.3 477.6,567.5 478.2,568.6 479.1,568.6 480,568.1 480.3,569.1 481.2,568.4 481.5,569.5 481.8,568.4 482.7,568.7 483.6,568.8 484.5,569.1 485.4,568.7 486.3,569.1 487.2,568.9 488.1,569.2 489.1,568.8 490,568.5 490.9,569 491.8,568.4 492.7,569.1 493.6,569.3 493.7,568.1 493.9,569.3 494.8,569.2 495.7,568.7 496.6,568.5 497.5,568.6 498.4,569 499.3,569.2 500.2,568.9 501.1,569 502,568.5 502.9,569.3 503.8,569.1 504.7,569 505.6,569.1 506.5,568.3 507.1,569.4 508,569.2 508.9,568.4 509.8,568.7 510.7,568.3 511.6,569.3 512.5,568.8 513.4,568.8 514.3,568.5 515.2,567.9 515.7,566.8 516.6,566.2 517.5,566.9 518.4,567.5 519,568.6 519.9,568.5 520.8,568.5 521.7,568.7 522.6,568.7 523.5,569 524.4,568.8 525.3,568.1 526.2,566.9 527,565.9 527.9,566.1 528.6,567.2 529.5,567.4 529.7,568.5 530.6,568.8 531.5,569.1 532.4,568.9 533.3,568.2 534.2,568.8 535.1,567.8 536,567.8 536.9,567.8 537.8,568.4 538.7,568.3 539.3,569.5 540.2,568.9 541.1,569 542,568.9 542.9,568.8 543.8,568.3 544.8,568.8 545.7,568.7 546.6,568.4 547.5,568 548.4,567.2 549.3,566.6 550.2,566.9 550.3,568.3 551.2,568.4 552.1,568.1 552.7,569.2 553.6,568.9 554.5,568.6 555.4,569.1 556.3,568.7 557.2,569 558.2,569.7 558.6,568.6 559.5,568.7 560.4,568.5 561.3,568.6 562.2,568.2 563.1,568.2 564,567.7 564.6,569.2 565.5,568.7 566.4,568.9 567.3,569 568.2,568.4 569.1,568.9 570,568.4 570.9,568.2 571.8,567.8 572.8,568.5 573.7,568.9 574.6,569 575.5,568.8 576.4,569 577.3,568.5 578.2,569 579.1,569.1 580,569 580.9,568.6 581.8,567.6 582.7,568 583.6,567.4 584.3,568.6 585.2,568.5 586.2,569 587.1,568.9 588,568.6 588.9,568.6 589.8,568.8 590.7,569.3 591.6,569.1 592.5,569 593.4,568.7 594.3,569.1 595.2,568.5 596.1,569.3 597,569.2 597.9,568.9 598.8,568.7 599.7,568.8 600.6,568.8 601.5,569.4 602.4,568.8 603.3,568.8 604.2,569.1 605.1,568.6 606,568.5 606.9,569.1 607.8,569 608.7,568.5 609.6,568.9 610.5,569.2 611.4,568.8 612.3,568.7 613.2,568.5 613.7,569.6 614.6,568.5 615.5,569.3 616.4,569.2 617.3,568.5 618.2,569.2 619.1,569 620,569 620.9,568.6 621.8,569.3 622.1,568.2 622.7,569.3 623.6,568.8 624.5,568 624.8,569 625.7,568.7 626.6,569.2 627.5,568.7 628.5,568.5 629.4,568.8 630.3,569 631.2,568.7 632.1,568.2 633,568.2 633.9,568 634.8,569 635.7,568.4 636.6,569 637.5,569 638.4,569 639.3,569 640.2,569 641.1,568.6 642,569.3 642.6,568.3 642.9,569.3 643.8,569.3 644.7,569 645.6,568.3 646.5,569.1 647.4,568.8 648.3,569.1 649.2,568.9 650.1,568.9 651,569.3 651.9,568.8 652.8,568.2 653.7,567.9 654.6,568 655.5,568.4 656.5,568.9 657.4,569.3 658.3,568.9 659.2,568.8 660.1,568.7 661,568.5 661.9,569.5 662.8,568.5 663.1,569.9 663.4,568.8 664.3,569.1 665.2,568.5 666.1,569.1 667,568.8 667.9,568.7 668.8,568.9 669.7,569.1 670.6,568.7 671.5,568.8 672.4,569.1 673.3,569.2 674.2,569.5 675.1,568.9 676,568.9 676.9,568.7 677.8,568.4 678.7,568.7 678.9,569" fill="none" stroke="none" marker-start="url(#c)" marker-mid="url(#c)" marker-end="url(#c)"/>
<polyline points="40.1,568.9 41.1,568.9 42.1,568.9 43.1,568.9 44.1,568.9 45.1,568.9 46.1,568.9 47.1,568.9 48.1,568.9 49.1,568.9 50.1,568.9 51.1,568.9 52.1,568.9 53.1,568.9 54.1,568.9 55.1,568.9 56.1,568.9 57.1,568.9 58.1,568.9 59.1,568.9 60.1,568.9 61.1,568.9 62.1,568.9 63.1,568.9 64.1,568.9 65.1,568.9 66.1,568.9 67.1,568.9 68.1,568.9 69.1,568.9 70.1,568.9 71.1,568.9 72.1,568.9 73.1,568.9 74.1,568.9 75.1,568.8 76.1,568.8 77.1,568.8 78.1,568.8 79.1,568.8 80.1,568.8 81.1,568.8 82.1,568.8 83.1,568.8 84.1,568.8 85.1,568.8 86.1,568.7 87.1,568.7 88.1,568.7 89.1,568.6 90.1,568.6 91.1,568.5 92.1,568.4 93.1,568.3 94.1,568.1 95.1,567.7 95.9,567.3 96.5,566.8 96.9,566.3 97.3,565.6 97.5,565.1 97.7,564.3 97.9,563.3 98.1,561.6 98.3,559.1 98.5,555.2 98.7,549.4 98.9,541.1 99.1,530 99.3,516 99.5,499.7 99.7,482.2 99.9,465.7 100.1,452.7 100.3,446.3 100.5,448 100.7,457.5 100.9,472.3 101.1,489.6 101.3,506.7 101.5,522.2 101.7,535 101.9,544.9 102.1,552.1 102.3,557 102.5,560.3 102.7,562.4 102.9,563.8 103.1,564.7 103.3,565.3 103.5,565.8 103.9,566.4 104.3,566.9 104.9,567.4 105.7,567.8 106.7,568.1 107.7,568.3 108.7,568.4 109.7,568.5 110.7,568.6 111.7,568.6 112.7,568.7 113.7,568.7 114.7,568.7 115.7,568.8 116.7,568.8 117.7,568.8 118.7,568.8 119.7,568.8 120.7,568.8 121.7,568.8 122.7,568.8 123.7,568.8 124.7,568.8 125.7,568.8 126.7,568.8 127.7,568.8 128.7,568.8 129.7,568.8 130.7,568.8 131.7,568.8 132.7,568.8 133.7,568.8 134.7,568.8 135.7,568.8 136.7,568.8 137.7,568.8 138.7,568.7 139.7,568.6 140.3,568.1 140.7,567.5 140.9,567 141.1,566.4 141.3,565.7 141.5,565 141.7,564.3 141.9,563.6 142.1,563.1 142.9,563.9 143.1,564.6 143.3,565.3 143.5,566 143.7,566.7 143.9,567.2 144.1,567.7 144.5,568.2 145.3,568.7 146.3,568.8 147.3,568.8 148.3,568.8 149.3,568.8 150.3,568.9 151.3,568.9 152.3,568.9 153.3,568.9 154.3,568.9 155.3,568.9 156.3,568.9 157.3,568.9 158.3,568.9 159.3,568.9 160.3,568.9 161.3,568.9 162.3,568.9 163.3,568.9 164.3,568.9 165.3,568.9 166.3,568.9 167.3,568.9 168.3,568.9 169.3,568.9 170.3,568.9 171.3,568.9 172.3,568.8 173.3,568.8 174.3,568.8 175.3,568.8 176.3,568.7 177.3,568.6 178.3,568.2 178.7,567.7 178.9,567.3 179.1,566.7 179.3,566 179.5,565.1 179.7,564 179.9,562.9 180.1,561.7 180.3,560.7 180.5,559.8 180.7,559.2 181.3,560.1 181.5,561.1 181.7,562.2 181.9,563.4 182.1,564.5 182.3,565.5 182.5,566.3 182.7,567 182.9,567.5 183.3,568.1 183.9,568.5 184.9,568.7 185.9,568.8 186.9,568.8 187.9,568.8 188.9,568.8 189.9,568.8 190.9,568.8 191.9,568.9 192.9,568.9 193.9,568.9 194.9,568.9 195.9,568.9 196.9,568.9 197.9,568.9 198.9,568.9 199.9,568.9 200.9,568.9 201.9,568.8 202.9,568.8 203.9,568.8 204.9,568.8 205.9,568.8 206.9,568.8 207.9,568.8 208.9,568.8 209.9,568.7 210.9,568.7 211.9,568.6 212.9,568.4 213.9,568.1 214.5,567.4 214.7,567 214.9,566.4 215.1,565.5 215.3,564.2 215.5,562.6 215.7,560.4 215.9,557.9 216.1,554.9 216.3,551.6 216.5,548.3 216.7,545.1 216.9,542.6 217.1,541 217.5,541.5 217.7,543.6 217.9,546.4 218.1,549.6 218.3,553 218.5,556.2 218.7,559 218.9,561.4 219.1,563.3 219.3,564.8 219.5,565.9 219.7,566.7 219.9,567.2 220.3,567.8 221.1,568.3 222.1,568.5 223.1,568.6 224.1,568.7 225.1,568.7 226.1,568.8 227.1,568.8 228.1,568.8 229.1,568.8 230.1,568.8 231.1,568.8 232.1,568.8 233.1,568.8 234.1,568.9 235.1,568.9 236.1,568.9 237.1,568.9 238.1,568.9 239.1,568.9 240.1,568.9 241.1,568.9 242.1,568.9 243.1,568.9 244.1,568.9 245.1,568.9 246.1,568.9 247.1,568.8 248.1,568.8 249.1,568.8 250.1,568.8 251.1,568.8 252.1,568.8 253.1,568.8 254.1,568.7 255.1,568.6 256.1,568.2 256.5,567.8 256.9,566.9 257.1,566.2 257.3,565.3 257.5,564.2 257.7,563 257.9,561.6 258.1,560.2 258.3,558.9 258.5,557.7 258.7,556.8 258.9,556.4 259.3,557.1 259.5,558.1 259.7,559.4 259.9,560.8 260.1,562.2 260.3,563.5 260.5,564.7 260.7,565.7 260.9,566.5 261.1,567.1 261.3,567.5 261.7,568.1 262.7,568.5 263.7,568.5 264.7,568 265.3,567.6 266.3,567.4 266.9,567.8 267.5,568.3 268.5,568.7 269.5,568.8 270.5,568.8 271.5,568.8 272.5,568.8 273.5,568.8 274.5,568.8 275.5,568.8 276.5,568.7 277.5,568.7 278.5,568.6 279.5,568.4 280.3,567.9 280.7,567.2 280.9,566.7 281.1,566 281.3,565 281.5,563.8 281.7,562.3 281.9,560.6 282.1,558.7 282.3,556.7 282.5,554.7 282.7,552.9 282.9,551.5 283.1,550.6 283.7,552 283.9,553.7 284.1,555.6 284.3,557.6 284.5,559.6 284.7,561.4 284.9,563 285.1,564.3 285.3,565.4 285.5,566.3 285.7,566.9 285.9,567.4 286.3,568 287.1,568.4 288.1,568.6 289.1,568.7 290.1,568.7 291.1,568.8 292.1,568.8 293.1,568.8 294.1,568.8 295.1,568.8 296.1,568.8 297.1,568.8 298.1,568.8 299.1,568.8 300.1,568.7 301.1,568.3 301.9,567.8 302.9,567.8 303.7,568.3 304.7,568.7 305.7,568.8 306.7,568.7 307.7,568.4 308.3,567.9 308.7,567.3 309.1,566.5 309.3,566 309.5,565.6 309.9,564.9 310.9,565.4 311.1,565.8 311.3,566.2 311.5,566.6 311.7,567.1 312.1,567.7 312.5,568.2 313.3,568.6 314.3,568.8 315.3,568.8 316.3,568.8 317.3,568.8 318.3,568.8 319.3,568.8 320.3,568.8 321.3,568.6 322.3,568.1 323.1,567.7 324.1,567.7 324.9,568.1 325.7,568.5 326.7,568.8 327.7,568.8 328.7,568.8 329.7,568.8 330.7,568.9 331.7,568.9 332.7,568.9 333.7,568.8 334.7,568.8 335.7,568.8 336.7,568.8 337.7,568.8 338.7,568.8 339.7,568.7 340.7,568.7 341.7,568.5 342.5,568 342.9,567.4 343.1,566.9 343.3,566.3 343.5,565.6 343.7,564.8 343.9,563.9 344.1,562.9 344.3,561.9 344.5,561 344.7,560.1 344.9,559.4 345.1,559 345.7,559.7 345.9,560.4 346.1,561.4 346.3,562.4 346.5,563.4 346.7,564.3 346.9,565.2 347.1,566 347.3,566.6 347.5,567.1 347.7,567.5 348.1,568.1 348.9,568.5 349.9,568.7 350.9,568.8 351.9,568.8 352.9,568.8 353.9,568.8 354.9,568.8 355.9,568.8 356.9,568.9 357.9,568.9 358.9,568.9 359.9,568.9 360.9,568.9 361.9,568.9 362.9,568.9 363.9,568.9 364.9,568.8 365.9,568.8 366.9,568.7 367.9,568.4 368.7,567.9 369.7,567.6 370.7,568 371.5,568.4 372.5,568.7 373.5,568.8 374.5,568.8 375.5,568.8 376.5,568.7 377.5,568.3 378.5,567.9 379.5,567.9 380.5,568.4 381.5,568.7 382.5,568.8 383.5,568.9 384.5,568.9 385.5,568.9 386.5,568.9 387.5,568.9 388.5,568.9 389.5,568.9 390.5,568.9 391.5,568.9 392.5,568.9 393.5,568.9 394.5,568.9 395.5,568.9 396.5,568.9 397.5,568.9 398.5,568.9 399.5,568.9 400.5,568.9 401.5,568.8 402.5,568.7 403.5,568.4 404.5,568 405.5,568 406.5,568.4 407.5,568.7 408.5,568.8 409.5,568.9 410.5,568.9 411.5,568.9 412.5,568.9 413.5,568.9 414.5,568.9 415.5,568.9 416.5,568.9 417.5,568.9 418.5,568.9 419.5,568.9 420.5,568.9 421.5,568.9 422.5,568.8 423.5,568.8 424.5,568.8 425.5,568.8 426.5,568.7 427.5,568.4 428.1,567.8 428.5,567.2 428.9,566.4 429.1,565.9 429.3,565.4 429.5,564.9 429.7,564.4 429.9,564 430.3,563.3 431.1,563.7 431.3,564.1 431.5,564.6 431.7,565.1 431.9,565.6 432.1,566.1 432.3,566.6 432.5,567 432.9,567.7 433.3,568.1 434.1,568.6 435.1,568.7 436.1,568.8 437.1,568.8 438.1,568.8 439.1,568.8 440.1,568.8 441.1,568.8 442.1,568.8 443.1,568.8 444.1,568.8 445.1,568.8 446.1,568.8 447.1,568.7 448.1,568.3 448.9,567.8 449.7,567.4 450.7,567.6 451.5,568.1 452.3,568.5 453.3,568.7 454.3,568.8 455.3,568.8 456.3,568.8 457.3,568.7 458.3,568.5 458.9,568.1 459.3,567.6 459.7,566.8 459.9,566.4 460.1,565.9 460.3,565.3 460.5,564.8 460.7,564.2 460.9,563.7 461.1,563.2 461.5,562.6 462.3,563.4 462.5,563.9 462.7,564.4 462.9,565 463.1,565.6 463.3,566.1 463.5,566.6 463.7,567 464.1,567.7 464.5,568.1 465.3,568.6 466.3,568.7 467.3,568.8 468.3,568.8 469.3,568.8 470.3,568.8 471.3,568.8 472.3,568.7 473.3,568.5 474.1,567.9 474.5,567.4 474.9,566.8 475.3,566.2 475.7,565.7 476.7,565.8 477.1,566.3 477.5,566.9 477.9,567.5 478.3,568 478.9,568.4 479.9,568.7 480.9,568.8 481.9,568.8 482.9,568.8 483.9,568.9 484.9,568.9 485.9,568.9 486.9,568.9 487.9,568.9 488.9,568.9 489.9,568.9 490.9,568.9 491.9,568.9 492.9,568.9 493.9,568.9 494.9,568.9 495.9,568.9 496.9,568.9 497.9,568.9 498.9,568.9 499.9,568.9 500.9,568.9 501.9,568.9 502.9,568.9 503.9,568.9 504.9,568.9 505.9,568.9 506.9,568.9 507.9,568.9 508.9,568.9 509.9,568.9 510.9,568.8 511.9,568.8 512.9,568.8 513.9,568.6 514.7,568.2 515.3,567.6 515.7,567.1 516.1,566.7 517.1,566.5 517.7,567 518.1,567.5 518.5,567.9 519.1,568.3 520.1,568.7 521.1,568.8 522.1,568.8 523.1,568.8 524.1,568.7 525.1,568.3 525.7,567.8 526.1,567.4 526.5,566.9 527.1,566.4 528.1,566.8 528.5,567.2 528.9,567.7 529.5,568.2 530.5,568.7 531.5,568.8 532.5,568.8 533.5,568.6 534.5,568.2 535.3,567.8 536.3,567.7 537.3,568.2 538.3,568.6 539.3,568.8 540.3,568.8 541.3,568.8 542.3,568.8 543.3,568.8 544.3,568.8 545.3,568.8 546.3,568.6 547.1,568.2 547.7,567.7 548.3,567.2 549.3,567 549.9,567.4 550.5,567.9 551.1,568.4 552.1,568.7 553.1,568.8 554.1,568.8 555.1,568.9 556.1,568.9 557.1,568.9 558.1,568.9 559.1,568.8 560.1,568.8 561.1,568.6 562.1,568.3 563.1,568.1 564.1,568.4 565.1,568.7 566.1,568.8 567.1,568.8 568.1,568.8 569.1,568.8 570.1,568.6 571.1,568.3 572.1,568.1 573.1,568.4 574.1,568.7 575.1,568.8 576.1,568.9 577.1,568.9 578.1,568.9 579.1,568.8 580.1,568.8 581.1,568.5 582.1,568.1 583.1,567.7 584.1,568 584.9,568.4 585.9,568.7 586.9,568.8 587.9,568.9 588.9,568.9 589.9,568.9 590.9,568.9 591.9,568.9 592.9,568.9 593.9,568.9 594.9,568.9 595.9,568.9 596.9,568.9 597.9,568.9 598.9,568.9 599.9,568.9 600.9,568.9 601.9,568.9 602.9,568.9 603.9,568.9 604.9,568.9 605.9,568.9 606.9,568.9 607.9,568.9 608.9,568.9 609.9,568.9 610.9,568.9 611.9,568.9 612.9,568.9 613.9,568.9 614.9,568.9 615.9,568.9 616.9,568.9 617.9,568.9 618.9,568.9 619.9,568.9 620.9,568.9 621.9,568.9 622.9,568.9 623.9,568.9 624.9,568.9 625.9,568.9 626.9,568.9 627.9,568.9 628.9,568.9 629.9,568.8 630.9,568.6 631.9,568.2 632.9,568.1 633.9,568.4 634.9,568.7 635.9,568.8 636.9,568.9 637.9,568.9 638.9,568.9 639.9,568.9 640.9,568.9 641.9,568.9 642.9,568.9 643.9,568.9 644.9,568.9 645.9,568.9 646.9,568.9 647.9,568.9 648.9,568.9 649.9,568.9 650.9,568.8 651.9,568.7 652.9,568.3 653.9,568.1 654.9,568.3 655.9,568.6 656.9,568.8 657.9,568.9 658.9,568.9 659.9,568.9 660.9,568.9 661.9,568.9 662.9,568.9 663.9,568.9 664.9,568.9 665.9,568.9 666.9,568.9 667.9,568.9 668.9,568.9 669.9,568.9 670.9,568.9 671.9,568.9 672.9,568.9 673.9,568.9 674.9,568.9 675.9,568.9 676.9,568.9 677.9,568.9 678.9,568.9" fill="none" stroke="#000" stroke-width="1.8" stroke-linejoin="round"/>
<path d="M100 577.6V587.3M143 577.6V587.3M181.1 577.6V587.3M217.7 577.6V587.3M259.7 577.6V587.3M266.3 577.6V587.3M283.5 577.6V587.3M302.8 577.6V587.3M310.9 577.6V587.3M323.6 577.6V587.3M334.5 577.6V587.3M346.1 577.6V587.3M369.4 577.6V587.3M379.8 577.6V587.3M386.2 577.6V587.3M406.1 577.6V587.3M410 577.6V587.3M422 577.6V587.3M430.5 577.6V587.3M441.3 577.6V587.3M452.2 577.6V587.3M458.4 577.6V587.3M462.5 577.6V587.3M466.9 577.6V587.3M477.2 577.6V587.3M479.4 577.6V587.3M497.7 577.6V587.3M516.8 577.6V587.3M527.6 577.6V587.3M533.5 577.6V587.3M536.8 577.6V587.3M539.9 577.6V587.3M548.5 577.6V587.3M550.5 577.6V587.3M559.2 577.6V587.3M563.3 577.6V587.3M569 577.6V587.3M572 577.6V587.3M578.3 577.6V587.3M584.5 577.6V587.3M587.5 577.6V587.3M590.3 577.6V587.3M605 577.6V587.3M609.5 577.6V587.3M615 577.6V587.3M622.6 577.6V587.3M629.7 577.6V587.3M633.6 577.6V587.3M639.2 577.6V587.3M650.5 577.6V587.3M654.5 577.6V587.3M659 577.6V587.3M664 577.6V587.3M672.5 577.6V587.3" stroke="#008000" stroke-width="5" stroke-linecap="round"/>
<polyline points="40.5,602.7 41.5,602.8 42.5,602.8 43.5,602.8 44.5,602.9 45.5,602.9 46.5,602.8 47.5,603 48.5,602.7 49.5,602.8 50.5,602.8 51.5,602.6 52.5,602.8 53.5,602.9 54.5,602.8 55.5,602.6 56.5,602.9 57.5,603 58.5,602.6 59.5,602.9 60.5,602.6 61.5,602.9 62.5,602.8 63.5,602.7 64.5,602.8 65.5,602.7 66.5,603 67.5,602.8 68.5,602.8 69.5,602.8 70.5,602.9 71.5,602.7 72.5,603 73.5,602.8 74.5,602.8 75.5,602.8 76.5,602.8 77.5,602.8 78.5,602.8 79.5,602.8 80.5,602.8 81.5,602.9 82.5,602.8 83.5,602.8 84.5,602.9 85.5,602.9 86.5,602.9 87.5,603 88.5,602.8 89.5,602.8 90.5,602.8 91.5,602.7 92.5,602.8 93.5,602.8 94.5,602.9 95.5,602.8 96.5,602.8 97.5,603 98.5,602.9 99.5,600.5 100,596.9 100.5,609.5 101,616.1 101.5,607 102,603.5 103,603.1 104,603 105,603.1 106,602.8 107,602.7 108,602.8 109,602.8 110,602.7 111,602.9 112,602.8 113,602.8 114,602.9 115,602.8 116,602.8 117,602.6 118,602.8 119,602.7 120,602.8 121,602.8 122,602.9 123,602.9 124,602.7 125,602.9 126,602.7 127,602.8 128,603 129,602.9 130,602.7 131,602.8 132,602.7 133,602.9 134,602.8 135,602.8 136,602.8 137,602.9 138,602.8 139,602.8 140,602.8 141,602.7 142,602.9 143,602.9 144,602.7 145,602.6 146,602.7 147,602.8 148,602.9 149,602.7 150,602.9 151,602.9 152,602.9 153,602.8 154,602.9 155,602.8 156,602.8 157,602.8 158,602.8 159,602.8 160,602.9 161,602.8 162,602.8 163,602.7 164,602.6 165,602.9 166,602.8 167,602.8 168,602.8 169,602.6 170,602.8 171,602.9 172,602.8 173,602.8 174,602.8 175,603 176,602.8 177,602.8 178,602.7 179,603 180,602.6 181,602.7 182,602.9 183,602.6 184,602.9 185,602.7 186,602.8 187,602.8 188,602.9 189,602.7 190,602.9 191,602.8 192,602.6 193,602.7 194,602.6 195,602.7 196,602.8 197,602.9 198,602.9 199,602.8 200,603 201,602.9 202,602.8 203,602.8 204,603 205,602.8 206,602.7 207,602.8 208,602.7 209,602.7 210,602.7 211,602.7 212,602.7 213,602.9 214,602.6 215,602.4 216,601.3 216.5,599.8 217,601 217.5,603.3 218,604.8 218.5,603.9 219,603.3 220,602.8 221,602.9 222,602.8 223,602.7 224,602.7 225,602.8 226,603 227,602.8 228,602.9 229,602.7 230,602.9 231,602.7 232,602.9 233,602.8 234,602.8 235,602.6 236,602.7 237,602.7 238,602.7 239,602.8 240,602.9 241,602.7 242,602.8 243,602.9 244,602.9 245,602.9 246,602.7 247,602.8 248,602.8 249,602.8 250,602.9 251,602.7 252,602.8 253,602.6 254,602.8 255,602.7 256,602.7 257,602.9 258,602.8 258.5,603.5 259.5,604.2 260.5,603.7 261,603 262,603 263,602.8 264,602.8 265,602.7 266,602.9 267,602.9 268,602.8 269,602.8 270,602.9 271,602.8 272,602.8 273,602.8 274,602.8 275,602.8 276,602.7 277,602.7 278,602.8 279,602.7 280,602.8 281,602.8 282,602.3 283,601.6 284,602.2 285,602.7 286,602.8 287,602.7 288,603.1 289,602.8 290,602.7 291,602.9 292,602.9 293,603 294,602.9 295,602.8 296,602.7 297,602.8 298,602.7 299,602.9 300,602.7 301,603 302,602.8 303,603 304,602.7 305,602.8 306,602.7 307,602.7 308,602.8 309,602.6 310,602.9 311,602.8 312,602.7 313,602.8 314,602.8 315,603.1 316,602.8 317,602.8 318,602.8 319,602.9 320,602.8 321,602.8 322,602.6 323,602.8 324,602.9 325,602.7 326,602.9 327,602.8 328,602.8 329,602.6 330,602.9 331,602.7 332,602.8 333,602.9 334,602.9 335,602.9 336,602.8 337,602.8 338,602.8 339,602.6 340,602.8 341,602.8 342,602.6 343,602.8 344,602.2 345,601.7 346,602.4 347,602.5 348,602.5 349,602.8 350,602.9 351,602.8 352,602.9 353,602.9 354,602.8 355,602.7 356,602.9 357,602.8 358,602.8 359,602.9 360,602.9 361,602.9 362,602.8 363,603.1 364,602.9 365,602.7 366,602.8 367,602.7 368,602.9 369,602.8 370,602.6 371,602.8 372,602.8 373,602.7 374,602.7 375,602.8 376,602.8 377,602.8 378,602.6 379,602.8 380,602.7 381,602.7 382,602.8 383,602.9 384,602.5 385,602.8 386,602.8 387,602.9 388,603 389,602.9 390,602.8 391,602.9 392,602.9 393,602.8 394,602.8 395,602.9 396,602.9 397,602.7 398,602.8 399,602.7 400,602.9 401,602.8 402,603 403,602.9 404,602.8 405,602.8 406,602.7 407,602.7 408,602.8 409,602.8 410,603 411,602.7 412,602.9 413,602.8 414,602.8 415,602.8 416,602.7 417,602.9 418,602.9 419,602.9 420,602.8 421,602.6 422,602.5 423,602.1 424,602.5 425,602.6 426,602.6 427,602.8 428,602.8 429,602.7 430,602.6 431,602.8 432,602.6 433,602.7 434,602.9 435,602.8 436,602.8 437,602.8 438,602.8 439,602.8 440,602.7 441,602.9 442,602.8 443,602.8 444,603.1 445,602.7 446,602.9 447,602.8 448,602.7 449,602.7 450,602.7 451,602.6 452,602.6 453,602.3 454,602.3 455,602.7 456,602.8 457,602.8 458,602.7 459,602.8 460,602.8 461,602.7 462,602.8 463,602.8 464,602.8 465,602.7 466,602.9 467,602.9 468,602.7 469,602.8 470,602.9 471,602.9 472,602.7 473,602.5 474,602.3 475,602.3 476,602.6 477,602.7 478,602.8 479,602.7 480,602.9 481,602.8 482,602.8 483,603 484,602.8 485,602.7 486,602.7 487,602.9 488,602.9 489,602.8 490,602.8 491,602.9 492,602.7 493,602.7 494,602.8 495,602.8 496,602.8 497,602.8 498,602.7 499,602.8 500,602.8 501,602.8 502,602.7 503,602.9 504,602.8 505,602.7 506,602.9 507,602.8 508,602.6 509,602.8 510,603 511,602.9 512,602.9 513,602.9 514,602.8 515,602.7 516,602.9 517,602.7 518,602.8 519,602.9 520,602.8 521,602.8 522,602.7 523,603 524,602.9 525,602.7 526,602.7 527,602.8 528,602.8 529,602.8 530,602.9 531,602.7 532,602.8 533,603 534,602.6 535,602.8 536,602.9 537,602.7 538,602.9 539,602.6 540,602.8 541,602.8 542,602.8 543,602.9 544,602.9 545,602.9 546,602.8 547,602.7 548,602.9 549,602.7 550,602.9 551,602.7 552,602.9 553,603.1 554,602.9 555,603.1 556,602.7 557,602.8 558,602.8 559,602.8 560,602.9 561,602.9 562,602.8 563,603 564,602.7 565,602.7 566,602.6 567,602.8 568,602.8 569,602.8 570,602.7 571,602.7 572,602.8 573,602.7 574,602.8 575,602.8 576,602.8 577,602.9 578,602.7 579,602.8 580,602.9 581,602.9 582,602.8 583,602.7 584,602.8 585,602.8 586,602.8 587,602.7 588,602.7 589,602.9 590,602.5 591,602.9 592,603 593,602.9 594,602.8 595,602.9 596,602.6 597,602.7 598,602.7 599,602.7 600,602.7 601,603.1 602,602.7 603,602.9 604,602.6 605,602.6 606,602.8 607,602.9 608,602.7 609,602.8 610,602.9 611,602.9 612,602.7 613,603 614,603 615,602.9 616,602.7 617,602.7 618,602.8 619,602.8 620,602.8 621,602.9 622,602.8 623,602.9 624,603 625,602.8 626,602.8 627,602.8 628,602.7 629,602.8 630,602.9 631,602.6 632,602.6 633,602.9 634,602.7 635,602.8 636,602.9 637,603 638,602.9 639,602.9 640,602.9 641,602.7 642,602.9 643,603 644,602.5 645,602.6 646,602.9 647,602.7 648,602.8 649,602.8 650,603 651,602.8 652,602.8 653,602.9 654,602.7 655,602.7 656,602.9 657,602.6 658,602.6 659,602.7 660,602.9 661,602.9 662,602.9 663,602.9 664,602.7 665,602.8 666,602.7 667,602.8 668,602.8 669,602.7 670,602.8 671,602.9 672,602.9 673,602.8 674,602.8 675,602.8 676,602.6 677,602.9 678,602.9 678.5,602.7" fill="none" stroke="#00f" stroke-width="3.1" stroke-linejoin="round" stroke-linecap="round"/>
</g>
<g font-family="Liberation Sans, sans-serif" fill="#000" opacity=".999">
<text x="53" y="30" font-size="27">(a)</text>
<text x="54" y="242" font-size="27">(b)</text>
<text x="55.5" y="454.3" font-size="27">(c)</text>
<text x="672" y="30.3" font-size="26.5" text-anchor="end">300K</text>
<text x="672" y="60.3" font-size="26" text-anchor="end">NPD Low Angle Bank</text>
<text x="672" y="246.3" font-size="26" text-anchor="end">NPD 90° Bank</text>
<text x="664" y="456.7" font-size="26" text-anchor="end">XRPD</text>
<path transform="translate(91.19 669.30) scale(0.01406 -0.01406)" d="M763 0H583V1147Q518 1085 412.5 1023Q307 961 223 930V1104Q374 1175 487 1276Q600 1377 647 1472H763Z"/>
<text x="215" y="669.4" font-size="29.3" text-anchor="middle">2</text>
<text x="330.8" y="669.4" font-size="29.3" text-anchor="middle">3</text>
<text x="446.6" y="669.4" font-size="29.3" text-anchor="middle">4</text>
<text x="562.4" y="669.4" font-size="29.3" text-anchor="middle">5</text>
<text x="678.2" y="669.4" font-size="29.3" text-anchor="middle">6</text>
<text x="334.8" y="702.3" font-size="28">Q (Å</text>
<rect x="393" y="689.2" width="5.7" height="1.7"/>
<path transform="translate(398.47 691.70) scale(0.00796 -0.00796)" d="M763 0H583V1147Q518 1085 412.5 1023Q307 961 223 930V1104Q374 1175 487 1276Q600 1377 647 1472H763Z"/>
<text x="408.5" y="702.3" font-size="28">)</text>
<text transform="translate(20.4,450.4) rotate(-90)" font-size="27.8">Intensity (Arbitrary unit)</text>
</g>
</svg></body></html>
